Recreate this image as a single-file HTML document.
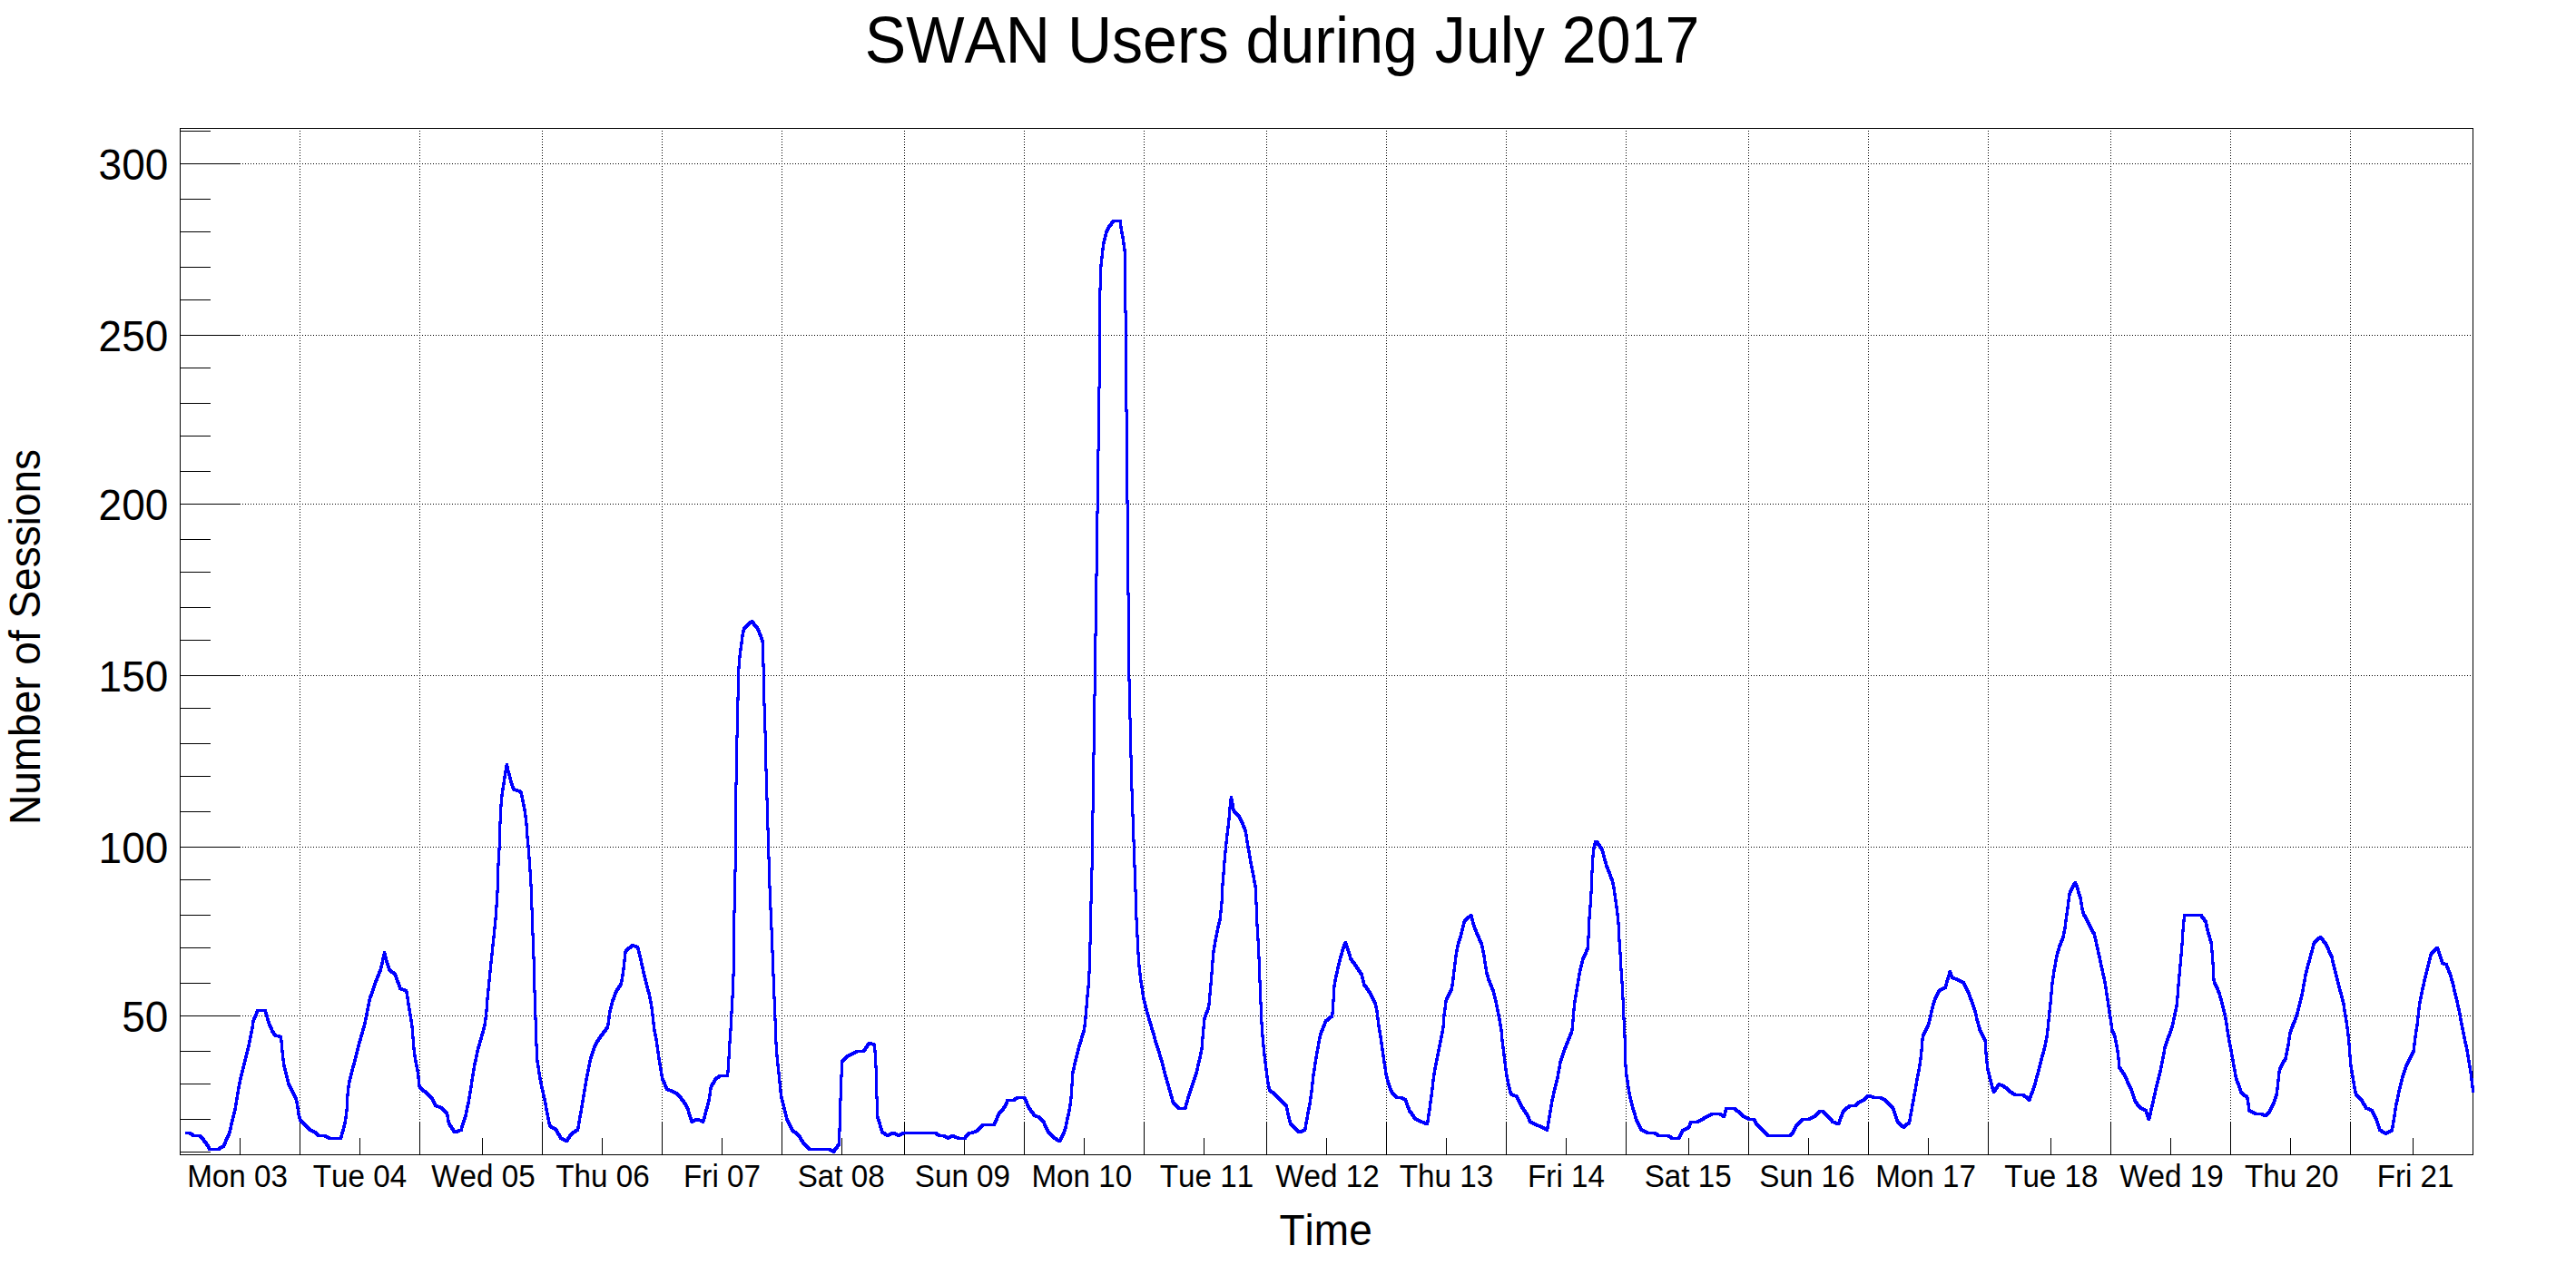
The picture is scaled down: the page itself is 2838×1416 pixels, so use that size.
<!DOCTYPE html>
<html><head><meta charset="utf-8"><title>SWAN Users during July 2017</title>
<style>
html,body{margin:0;padding:0;background:#fff;}
body{width:2838px;height:1416px;overflow:hidden;}
svg{display:block;}
text{font-family:"Liberation Sans",sans-serif;fill:#000;font-kerning:none;}
</style></head><body>
<svg width="2838" height="1416" viewBox="0 0 2838 1416">
<rect width="2838" height="1416" fill="#fff"/>
<g stroke="#000" stroke-width="1" stroke-dasharray="1 2" shape-rendering="crispEdges" fill="none">
<line x1="330.5" y1="144.0" x2="330.5" y2="1234.0"/>
<line x1="462.5" y1="144.0" x2="462.5" y2="1234.0"/>
<line x1="597.5" y1="144.0" x2="597.5" y2="1234.0"/>
<line x1="729.5" y1="144.0" x2="729.5" y2="1234.0"/>
<line x1="861.5" y1="144.0" x2="861.5" y2="1234.0"/>
<line x1="996.5" y1="144.0" x2="996.5" y2="1234.0"/>
<line x1="1128.5" y1="144.0" x2="1128.5" y2="1234.0"/>
<line x1="1260.5" y1="144.0" x2="1260.5" y2="1234.0"/>
<line x1="1395.5" y1="144.0" x2="1395.5" y2="1234.0"/>
<line x1="1527.5" y1="144.0" x2="1527.5" y2="1234.0"/>
<line x1="1659.5" y1="144.0" x2="1659.5" y2="1234.0"/>
<line x1="1791.5" y1="144.0" x2="1791.5" y2="1234.0"/>
<line x1="1926.5" y1="144.0" x2="1926.5" y2="1234.0"/>
<line x1="2058.5" y1="144.0" x2="2058.5" y2="1234.0"/>
<line x1="2190.5" y1="144.0" x2="2190.5" y2="1234.0"/>
<line x1="2325.5" y1="144.0" x2="2325.5" y2="1234.0"/>
<line x1="2457.5" y1="144.0" x2="2457.5" y2="1234.0"/>
<line x1="2589.5" y1="144.0" x2="2589.5" y2="1234.0"/>
<line x1="267.0" y1="1119.5" x2="2722.0" y2="1119.5"/>
<line x1="267.0" y1="933.5" x2="2722.0" y2="933.5"/>
<line x1="267.0" y1="744.5" x2="2722.0" y2="744.5"/>
<line x1="267.0" y1="555.5" x2="2722.0" y2="555.5"/>
<line x1="267.0" y1="369.5" x2="2722.0" y2="369.5"/>
<line x1="267.0" y1="180.5" x2="2722.0" y2="180.5"/>
</g>
<g stroke="#000" stroke-width="1" shape-rendering="crispEdges" fill="none">
<rect x="198.5" y="141.5" width="2526.0" height="1131.0"/>
<line x1="264.5" y1="1272.5" x2="264.5" y2="1254.0"/>
<line x1="330.5" y1="1272.5" x2="330.5" y2="1236.0"/>
<line x1="396.5" y1="1272.5" x2="396.5" y2="1254.0"/>
<line x1="462.5" y1="1272.5" x2="462.5" y2="1236.0"/>
<line x1="531.5" y1="1272.5" x2="531.5" y2="1254.0"/>
<line x1="597.5" y1="1272.5" x2="597.5" y2="1236.0"/>
<line x1="663.5" y1="1272.5" x2="663.5" y2="1254.0"/>
<line x1="729.5" y1="1272.5" x2="729.5" y2="1236.0"/>
<line x1="795.5" y1="1272.5" x2="795.5" y2="1254.0"/>
<line x1="861.5" y1="1272.5" x2="861.5" y2="1236.0"/>
<line x1="927.5" y1="1272.5" x2="927.5" y2="1254.0"/>
<line x1="996.5" y1="1272.5" x2="996.5" y2="1236.0"/>
<line x1="1062.5" y1="1272.5" x2="1062.5" y2="1254.0"/>
<line x1="1128.5" y1="1272.5" x2="1128.5" y2="1236.0"/>
<line x1="1194.5" y1="1272.5" x2="1194.5" y2="1254.0"/>
<line x1="1260.5" y1="1272.5" x2="1260.5" y2="1236.0"/>
<line x1="1326.5" y1="1272.5" x2="1326.5" y2="1254.0"/>
<line x1="1395.5" y1="1272.5" x2="1395.5" y2="1236.0"/>
<line x1="1461.5" y1="1272.5" x2="1461.5" y2="1254.0"/>
<line x1="1527.5" y1="1272.5" x2="1527.5" y2="1236.0"/>
<line x1="1593.5" y1="1272.5" x2="1593.5" y2="1254.0"/>
<line x1="1659.5" y1="1272.5" x2="1659.5" y2="1236.0"/>
<line x1="1725.5" y1="1272.5" x2="1725.5" y2="1254.0"/>
<line x1="1791.5" y1="1272.5" x2="1791.5" y2="1236.0"/>
<line x1="1860.5" y1="1272.5" x2="1860.5" y2="1254.0"/>
<line x1="1926.5" y1="1272.5" x2="1926.5" y2="1236.0"/>
<line x1="1992.5" y1="1272.5" x2="1992.5" y2="1254.0"/>
<line x1="2058.5" y1="1272.5" x2="2058.5" y2="1236.0"/>
<line x1="2124.5" y1="1272.5" x2="2124.5" y2="1254.0"/>
<line x1="2190.5" y1="1272.5" x2="2190.5" y2="1236.0"/>
<line x1="2259.5" y1="1272.5" x2="2259.5" y2="1254.0"/>
<line x1="2325.5" y1="1272.5" x2="2325.5" y2="1236.0"/>
<line x1="2391.5" y1="1272.5" x2="2391.5" y2="1254.0"/>
<line x1="2457.5" y1="1272.5" x2="2457.5" y2="1236.0"/>
<line x1="2523.5" y1="1272.5" x2="2523.5" y2="1254.0"/>
<line x1="2589.5" y1="1272.5" x2="2589.5" y2="1236.0"/>
<line x1="2658.5" y1="1272.5" x2="2658.5" y2="1254.0"/>
<line x1="198.5" y1="1269.5" x2="232.0" y2="1269.5"/>
<line x1="198.5" y1="1233.5" x2="232.0" y2="1233.5"/>
<line x1="198.5" y1="1194.5" x2="232.0" y2="1194.5"/>
<line x1="198.5" y1="1158.5" x2="232.0" y2="1158.5"/>
<line x1="198.5" y1="1119.5" x2="265.0" y2="1119.5"/>
<line x1="198.5" y1="1083.5" x2="232.0" y2="1083.5"/>
<line x1="198.5" y1="1044.5" x2="232.0" y2="1044.5"/>
<line x1="198.5" y1="1008.5" x2="232.0" y2="1008.5"/>
<line x1="198.5" y1="969.5" x2="232.0" y2="969.5"/>
<line x1="198.5" y1="933.5" x2="265.0" y2="933.5"/>
<line x1="198.5" y1="894.5" x2="232.0" y2="894.5"/>
<line x1="198.5" y1="855.5" x2="232.0" y2="855.5"/>
<line x1="198.5" y1="819.5" x2="232.0" y2="819.5"/>
<line x1="198.5" y1="780.5" x2="232.0" y2="780.5"/>
<line x1="198.5" y1="744.5" x2="265.0" y2="744.5"/>
<line x1="198.5" y1="705.5" x2="232.0" y2="705.5"/>
<line x1="198.5" y1="669.5" x2="232.0" y2="669.5"/>
<line x1="198.5" y1="630.5" x2="232.0" y2="630.5"/>
<line x1="198.5" y1="594.5" x2="232.0" y2="594.5"/>
<line x1="198.5" y1="555.5" x2="265.0" y2="555.5"/>
<line x1="198.5" y1="519.5" x2="232.0" y2="519.5"/>
<line x1="198.5" y1="480.5" x2="232.0" y2="480.5"/>
<line x1="198.5" y1="444.5" x2="232.0" y2="444.5"/>
<line x1="198.5" y1="405.5" x2="232.0" y2="405.5"/>
<line x1="198.5" y1="369.5" x2="265.0" y2="369.5"/>
<line x1="198.5" y1="330.5" x2="232.0" y2="330.5"/>
<line x1="198.5" y1="294.5" x2="232.0" y2="294.5"/>
<line x1="198.5" y1="255.5" x2="232.0" y2="255.5"/>
<line x1="198.5" y1="219.5" x2="232.0" y2="219.5"/>
<line x1="198.5" y1="180.5" x2="265.0" y2="180.5"/>
<line x1="198.5" y1="144.5" x2="232.0" y2="144.5"/>
</g>
<text transform="translate(185.3,1137.1) scale(1,1.050)" font-size="46" text-anchor="end">50</text>
<text transform="translate(185.3,951.1) scale(1,1.050)" font-size="46" text-anchor="end">100</text>
<text transform="translate(185.3,762.1) scale(1,1.050)" font-size="46" text-anchor="end">150</text>
<text transform="translate(185.3,573.1) scale(1,1.050)" font-size="46" text-anchor="end">200</text>
<text transform="translate(185.3,387.1) scale(1,1.050)" font-size="46" text-anchor="end">250</text>
<text transform="translate(185.3,198.1) scale(1,1.050)" font-size="46" text-anchor="end">300</text>
<text transform="translate(261.5,1308.4) scale(1,1.050)" font-size="33.2" text-anchor="middle">Mon 03</text>
<text transform="translate(396.5,1308.4) scale(1,1.050)" font-size="33.2" text-anchor="middle">Tue 04</text>
<text transform="translate(532.4,1308.4) scale(1,1.050)" font-size="33.2" text-anchor="middle">Wed 05</text>
<text transform="translate(664.0,1308.4) scale(1,1.050)" font-size="33.2" text-anchor="middle">Thu 06</text>
<text transform="translate(795.5,1308.4) scale(1,1.050)" font-size="33.2" text-anchor="middle">Fri 07</text>
<text transform="translate(926.7,1308.4) scale(1,1.050)" font-size="33.2" text-anchor="middle">Sat 08</text>
<text transform="translate(1060.4,1308.4) scale(1,1.050)" font-size="33.2" text-anchor="middle">Sun 09</text>
<text transform="translate(1191.8,1308.4) scale(1,1.050)" font-size="33.2" text-anchor="middle">Mon 10</text>
<text transform="translate(1329.5,1308.4) scale(1,1.050)" font-size="33.2" text-anchor="middle">Tue 11</text>
<text transform="translate(1462.4,1308.4) scale(1,1.050)" font-size="33.2" text-anchor="middle">Wed 12</text>
<text transform="translate(1593.5,1308.4) scale(1,1.050)" font-size="33.2" text-anchor="middle">Thu 13</text>
<text transform="translate(1725.5,1308.4) scale(1,1.050)" font-size="33.2" text-anchor="middle">Fri 14</text>
<text transform="translate(1859.7,1308.4) scale(1,1.050)" font-size="33.2" text-anchor="middle">Sat 15</text>
<text transform="translate(1990.9,1308.4) scale(1,1.050)" font-size="33.2" text-anchor="middle">Sun 16</text>
<text transform="translate(2121.5,1308.4) scale(1,1.050)" font-size="33.2" text-anchor="middle">Mon 17</text>
<text transform="translate(2259.8,1308.4) scale(1,1.050)" font-size="33.2" text-anchor="middle">Tue 18</text>
<text transform="translate(2392.4,1308.4) scale(1,1.050)" font-size="33.2" text-anchor="middle">Wed 19</text>
<text transform="translate(2524.7,1308.4) scale(1,1.050)" font-size="33.2" text-anchor="middle">Thu 20</text>
<text transform="translate(2661.1,1308.4) scale(1,1.050)" font-size="33.2" text-anchor="middle">Fri 21</text>
<text transform="translate(1460.6,1372.0) scale(1,1.050)" font-size="46" text-anchor="middle">Time</text>
<text transform="translate(43.6,702.0) rotate(-90) scale(1,1.050)" font-size="46" text-anchor="middle">Number of Sessions</text>
<text transform="translate(1412.5,69.3) scale(1,1.050)" font-size="68.1" text-anchor="middle">SWAN Users during July 2017</text>
<path fill="#0000ff" fill-rule="nonzero" stroke="none" shape-rendering="crispEdges" d="M204.0,1247.0 210.6,1247.0 210.6,1250.0 204.0,1250.0ZM207.6,1247.0 210.6,1247.0 214.6,1250.1 214.6,1253.1 211.6,1253.1 207.6,1250.0ZM211.6,1250.1 221.6,1250.1 221.6,1253.1 211.6,1253.1ZM218.6,1250.1 221.6,1250.1 227.5,1256.6 227.5,1259.6 224.5,1259.6 218.6,1253.1ZM224.5,1256.6 227.5,1256.6 232.8,1265.0 232.8,1268.0 229.8,1268.0 224.5,1259.6ZM229.8,1265.0 241.6,1265.0 241.6,1268.0 229.8,1268.0ZM238.6,1265.0 244.8,1261.7 247.8,1261.7 247.8,1264.7 241.6,1268.0 238.6,1268.0ZM244.8,1261.7 247.7,1254.9 250.7,1254.9 250.7,1257.9 247.8,1264.7 244.8,1264.7ZM247.7,1254.9 251.0,1248.1 254.0,1248.1 254.0,1251.1 250.7,1257.9 247.7,1257.9ZM251.0,1248.1 254.4,1233.4 257.4,1233.4 257.4,1236.4 254.0,1251.1 251.0,1251.1ZM254.4,1233.4 257.6,1221.0 260.6,1221.0 260.6,1224.0 257.4,1236.4 254.4,1236.4ZM257.6,1221.0 261.2,1198.5 264.2,1198.5 264.2,1201.5 260.6,1224.0 257.6,1224.0ZM261.2,1198.5 263.1,1188.9 266.1,1188.9 266.1,1191.9 264.2,1201.5 261.2,1201.5ZM263.1,1188.9 266.8,1173.6 269.8,1173.6 269.8,1176.6 266.1,1191.9 263.1,1191.9ZM266.8,1173.6 271.4,1155.6 274.4,1155.6 274.4,1158.6 269.8,1176.6 266.8,1176.6ZM271.4,1155.6 274.2,1143.2 277.2,1143.2 277.2,1146.2 274.4,1158.6 271.4,1158.6ZM274.2,1143.2 277.0,1128.5 280.0,1128.5 280.0,1131.5 277.2,1146.2 274.2,1146.2ZM277.0,1128.5 277.6,1122.8 280.6,1122.8 280.6,1125.8 280.0,1131.5 277.0,1131.5ZM277.6,1122.8 282.6,1112.1 285.6,1112.1 285.6,1115.1 280.6,1125.8 277.6,1125.8ZM282.6,1112.1 293.8,1112.1 293.8,1115.1 282.6,1115.1ZM290.8,1112.1 293.8,1112.1 298.1,1127.3 298.1,1130.3 295.1,1130.3 290.8,1115.1ZM295.1,1127.3 298.1,1127.3 301.4,1133.5 301.4,1136.5 298.4,1136.5 295.1,1130.3ZM297.9,1133.6 298.4,1133.5 301.4,1133.5 301.4,1136.5 300.9,1136.6 297.9,1136.6ZM297.9,1133.6 300.9,1133.6 304.3,1139.2 304.3,1142.2 301.3,1142.2 297.9,1136.6ZM301.3,1139.2 304.3,1139.2 311.0,1141.1 311.0,1144.1 308.0,1144.1 301.3,1142.2ZM308.0,1141.1 311.0,1141.1 312.5,1156.7 312.5,1159.7 309.5,1159.7 308.0,1144.1ZM309.5,1156.7 312.5,1156.7 314.1,1171.4 314.1,1174.4 311.1,1174.4 309.5,1159.7ZM311.1,1171.4 314.1,1171.4 319.5,1192.8 319.5,1195.8 316.5,1195.8 311.1,1174.4ZM316.5,1192.8 319.5,1192.8 325.7,1205.2 325.7,1208.2 322.7,1208.2 316.5,1195.8ZM322.7,1205.2 325.7,1205.2 328.0,1209.7 328.0,1212.7 325.0,1212.7 322.7,1208.2ZM325.0,1209.7 328.0,1209.7 330.8,1227.8 330.8,1230.8 327.8,1230.8 325.0,1212.7ZM327.8,1227.8 330.8,1227.8 332.2,1232.3 332.2,1235.3 329.2,1235.3 327.8,1230.8ZM329.2,1232.3 332.2,1232.3 343.2,1243.6 343.2,1246.6 340.2,1246.6 329.2,1235.3ZM340.2,1243.6 343.2,1243.6 348.3,1245.9 348.3,1248.9 345.3,1248.9 340.2,1246.6ZM345.3,1245.9 348.3,1245.9 352.8,1250.1 352.8,1253.1 349.8,1253.1 345.3,1248.9ZM349.8,1250.1 359.6,1250.1 359.6,1253.1 349.8,1253.1ZM356.6,1250.1 359.6,1250.1 364.6,1252.9 364.6,1255.9 361.6,1255.9 356.6,1253.1ZM361.6,1252.9 377.0,1252.9 377.0,1255.9 361.6,1255.9ZM374.0,1252.9 378.6,1235.7 381.6,1235.7 381.6,1238.7 377.0,1255.9 374.0,1255.9ZM378.6,1235.7 380.3,1225.5 383.3,1225.5 383.3,1228.5 381.6,1238.7 378.6,1238.7ZM380.3,1225.5 381.7,1201.8 384.7,1201.8 384.7,1204.8 383.3,1228.5 380.3,1228.5ZM381.7,1201.8 383.1,1191.7 386.1,1191.7 386.1,1194.7 384.7,1204.8 381.7,1204.8ZM383.1,1191.7 385.3,1182.7 388.3,1182.7 388.3,1185.7 386.1,1194.7 383.1,1194.7ZM385.3,1182.7 389.8,1165.7 392.8,1165.7 392.8,1168.7 388.3,1185.7 385.3,1185.7ZM389.8,1165.7 393.8,1149.9 396.8,1149.9 396.8,1152.9 392.8,1168.7 389.8,1168.7ZM393.8,1149.9 396.6,1139.8 399.6,1139.8 399.6,1142.8 396.8,1152.9 393.8,1152.9ZM396.6,1139.8 400.0,1128.5 403.0,1128.5 403.0,1131.5 399.6,1142.8 396.6,1142.8ZM400.0,1128.5 402.3,1117.1 405.3,1117.1 405.3,1120.1 403.0,1131.5 400.0,1131.5ZM402.3,1117.1 405.6,1100.2 408.6,1100.2 408.6,1103.2 405.3,1120.1 402.3,1120.1ZM405.6,1100.2 409.0,1090.1 412.0,1090.1 412.0,1093.1 408.6,1103.2 405.6,1103.2ZM409.0,1090.1 413.0,1078.8 416.0,1078.8 416.0,1081.8 412.0,1093.1 409.0,1093.1ZM413.0,1078.8 418.1,1066.4 421.1,1066.4 421.1,1069.4 416.0,1081.8 413.0,1081.8ZM418.1,1066.4 420.3,1056.2 423.3,1056.2 423.3,1059.2 421.1,1069.4 418.1,1069.4ZM420.3,1056.2 422.0,1048.3 425.0,1048.3 425.0,1051.3 423.3,1059.2 420.3,1059.2ZM422.0,1048.3 425.0,1048.3 426.7,1055.1 426.7,1058.1 423.7,1058.1 422.0,1051.3ZM423.7,1055.1 426.7,1055.1 430.1,1066.4 430.1,1069.4 427.1,1069.4 423.7,1058.1ZM427.1,1066.4 430.1,1066.4 436.9,1072.6 436.9,1075.6 433.9,1075.6 427.1,1069.4ZM433.9,1072.6 436.9,1072.6 442.5,1087.8 442.5,1090.8 439.5,1090.8 433.9,1075.6ZM439.5,1087.8 442.5,1087.8 449.3,1090.6 449.3,1093.6 446.3,1093.6 439.5,1090.8ZM446.3,1090.6 449.3,1090.6 451.5,1104.7 451.5,1107.7 448.5,1107.7 446.3,1093.6ZM448.5,1104.7 451.5,1104.7 454.3,1121.7 454.3,1124.7 451.3,1124.7 448.5,1107.7ZM451.3,1121.7 454.3,1121.7 456.0,1133.5 456.0,1136.5 453.0,1136.5 451.3,1124.7ZM453.0,1133.5 456.0,1133.5 456.6,1143.2 456.6,1146.2 453.6,1146.2 453.0,1136.5ZM453.6,1143.2 456.6,1143.2 457.7,1155.6 457.7,1158.6 454.7,1158.6 453.6,1146.2ZM454.7,1155.6 457.7,1155.6 458.9,1164.6 458.9,1167.6 455.9,1167.6 454.7,1158.6ZM455.9,1164.6 458.9,1164.6 461.7,1179.3 461.7,1182.3 458.7,1182.3 455.9,1167.6ZM458.7,1179.3 461.7,1179.3 463.7,1196.2 463.7,1199.2 460.7,1199.2 458.7,1182.3ZM460.7,1196.2 463.7,1196.2 477.3,1208.6 477.3,1211.6 474.3,1211.6 460.7,1199.2ZM474.3,1208.6 477.3,1208.6 481.2,1216.5 481.2,1219.5 478.2,1219.5 474.3,1211.6ZM478.2,1216.5 481.2,1216.5 487.5,1219.3 487.5,1222.3 484.5,1222.3 478.2,1219.5ZM484.5,1219.3 487.5,1219.3 494.2,1226.1 494.2,1229.1 491.2,1229.1 484.5,1222.3ZM491.2,1226.1 494.2,1226.1 495.9,1236.3 495.9,1239.3 492.9,1239.3 491.2,1229.1ZM492.9,1236.3 495.9,1236.3 502.7,1246.4 502.7,1249.4 499.7,1249.4 492.9,1239.3ZM499.7,1246.4 506.5,1243.6 509.5,1243.6 509.5,1246.6 502.7,1249.4 499.7,1249.4ZM506.5,1243.6 511.5,1227.8 514.5,1227.8 514.5,1230.8 509.5,1246.6 506.5,1246.6ZM511.5,1227.8 514.9,1212.0 517.9,1212.0 517.9,1215.0 514.5,1230.8 511.5,1230.8ZM514.9,1212.0 518.3,1190.6 521.3,1190.6 521.3,1193.6 517.9,1215.0 514.9,1215.0ZM518.3,1190.6 521.7,1170.3 524.7,1170.3 524.7,1173.3 521.3,1193.6 518.3,1193.6ZM521.7,1170.3 525.1,1154.5 528.1,1154.5 528.1,1157.5 524.7,1173.3 521.7,1173.3ZM525.1,1154.5 530.7,1135.3 533.7,1135.3 533.7,1138.3 528.1,1157.5 525.1,1157.5ZM530.7,1135.3 532.4,1128.5 535.4,1128.5 535.4,1131.5 533.7,1138.3 530.7,1138.3ZM532.4,1128.5 534.1,1117.1 537.1,1117.1 537.1,1120.1 535.4,1131.5 532.4,1131.5ZM534.1,1117.1 535.8,1095.7 538.8,1095.7 538.8,1098.7 537.1,1120.1 534.1,1120.1ZM535.8,1095.7 538.1,1073.1 541.1,1073.1 541.1,1076.1 538.8,1098.7 535.8,1098.7ZM538.1,1073.1 540.3,1051.7 543.3,1051.7 543.3,1054.7 541.1,1076.1 538.1,1076.1ZM540.3,1051.7 542.6,1030.3 545.6,1030.3 545.6,1033.3 543.3,1054.7 540.3,1054.7ZM542.6,1030.3 544.5,1011.1 547.5,1011.1 547.5,1014.1 545.6,1033.3 542.6,1033.3ZM544.5,1011.1 545.6,995.3 548.6,995.3 548.6,998.3 547.5,1014.1 544.5,1014.1ZM545.6,995.3 546.3,988.5 549.3,988.5 549.3,991.5 548.6,998.3 545.6,998.3ZM546.3,988.5 546.7,974.9 549.7,974.9 549.7,977.9 549.3,991.5 546.3,991.5ZM546.7,974.9 547.3,954.3 550.3,954.3 550.3,957.3 549.7,977.9 546.7,977.9ZM547.3,954.3 548.6,932.5 551.6,932.5 551.6,935.5 550.3,957.3 547.3,957.3ZM548.6,932.5 549.2,912.0 552.2,912.0 552.2,915.0 551.6,935.5 548.6,935.5ZM549.2,912.0 550.2,891.4 553.2,891.4 553.2,894.4 552.2,915.0 549.2,915.0ZM550.2,891.4 551.1,877.3 554.1,877.3 554.1,880.3 553.2,894.4 550.2,894.4ZM551.1,877.3 553.1,864.5 556.1,864.5 556.1,867.5 554.1,880.3 551.1,880.3ZM553.1,864.5 555.0,851.6 558.0,851.6 558.0,854.6 556.1,867.5 553.1,867.5ZM555.0,851.6 556.9,841.3 559.9,841.3 559.9,844.3 558.0,854.6 555.0,854.6ZM556.9,841.3 559.9,841.3 561.2,847.8 561.2,850.8 558.2,850.8 556.9,844.3ZM558.2,847.8 561.2,847.8 563.1,854.2 563.1,857.2 560.1,857.2 558.2,850.8ZM560.1,854.2 563.1,854.2 565.1,861.9 565.1,864.9 562.1,864.9 560.1,857.2ZM562.1,861.9 565.1,861.9 567.6,868.3 567.6,871.3 564.6,871.3 562.1,864.9ZM564.6,868.3 567.6,868.3 571.5,869.8 571.5,872.8 568.5,872.8 564.6,871.3ZM568.5,869.8 571.5,869.8 575.3,871.1 575.3,874.1 572.3,874.1 568.5,872.8ZM572.3,871.1 575.3,871.1 577.3,879.9 577.3,882.9 574.3,882.9 572.3,874.1ZM574.3,879.9 577.3,879.9 579.8,892.7 579.8,895.7 576.8,895.7 574.3,882.9ZM576.8,892.7 579.8,892.7 581.4,905.5 581.4,908.5 578.4,908.5 576.8,895.7ZM578.4,905.5 581.4,905.5 582.4,919.7 582.4,922.7 579.4,922.7 578.4,908.5ZM579.4,919.7 582.4,919.7 583.7,932.5 583.7,935.5 580.7,935.5 579.4,922.7ZM580.7,932.5 583.7,932.5 584.7,946.6 584.7,949.6 581.7,949.6 580.7,935.5ZM581.7,946.6 584.7,946.6 585.6,959.5 585.6,962.5 582.6,962.5 581.7,949.6ZM582.6,959.5 585.6,959.5 586.5,973.6 586.5,976.6 583.5,976.6 582.6,962.5ZM583.5,973.6 586.5,973.6 587.3,993.5 587.3,996.5 584.3,996.5 583.5,976.6ZM584.3,993.5 587.3,993.5 587.7,1005.4 587.7,1008.4 584.7,1008.4 584.3,996.5ZM584.7,1005.4 587.7,1005.4 588.4,1025.7 588.4,1028.7 585.4,1028.7 584.7,1008.4ZM585.4,1025.7 588.4,1025.7 589.6,1056.2 589.6,1059.2 586.6,1059.2 585.4,1028.7ZM586.6,1056.2 589.6,1056.2 590.4,1086.7 590.4,1089.7 587.4,1089.7 586.6,1059.2ZM587.4,1086.7 590.4,1086.7 591.3,1117.1 591.3,1120.1 588.3,1120.1 587.4,1089.7ZM588.3,1117.1 591.3,1117.1 592.2,1133.5 592.2,1136.5 589.2,1136.5 588.3,1120.1ZM589.2,1133.5 592.2,1133.5 592.4,1146.6 592.4,1149.6 589.4,1149.6 589.2,1136.5ZM589.4,1146.6 592.4,1146.6 593.0,1164.6 593.0,1167.6 590.0,1167.6 589.4,1149.6ZM590.0,1164.6 593.0,1164.6 596.9,1189.4 596.9,1192.4 593.9,1192.4 590.0,1167.6ZM593.9,1189.4 596.9,1189.4 601.4,1209.7 601.4,1212.7 598.4,1212.7 593.9,1192.4ZM598.4,1209.7 601.4,1209.7 607.1,1239.1 607.1,1242.1 604.1,1242.1 598.4,1212.7ZM604.1,1239.1 607.1,1239.1 613.8,1243.0 613.8,1246.0 610.8,1246.0 604.1,1242.1ZM610.8,1243.0 613.8,1243.0 619.5,1252.6 619.5,1255.6 616.5,1255.6 610.8,1246.0ZM616.5,1252.6 619.5,1252.6 625.7,1255.8 625.7,1258.8 622.7,1258.8 616.5,1255.6ZM622.7,1255.8 628.9,1247.0 631.9,1247.0 631.9,1250.0 625.7,1258.8 622.7,1258.8ZM628.9,1247.0 635.1,1243.6 638.1,1243.6 638.1,1246.6 631.9,1250.0 628.9,1250.0ZM635.1,1243.6 637.4,1230.1 640.4,1230.1 640.4,1233.1 638.1,1246.6 635.1,1246.6ZM637.4,1230.1 641.3,1207.5 644.3,1207.5 644.3,1210.5 640.4,1233.1 637.4,1233.1ZM641.3,1207.5 644.7,1187.2 647.7,1187.2 647.7,1190.2 644.3,1210.5 641.3,1210.5ZM644.7,1187.2 649.2,1164.6 652.2,1164.6 652.2,1167.6 647.7,1190.2 644.7,1190.2ZM649.2,1164.6 654.8,1148.8 657.8,1148.8 657.8,1151.8 652.2,1167.6 649.2,1167.6ZM654.8,1148.8 661.6,1138.7 664.6,1138.7 664.6,1141.7 657.8,1151.8 654.8,1151.8ZM661.6,1138.7 667.8,1130.8 670.8,1130.8 670.8,1133.8 664.6,1141.7 661.6,1141.7ZM667.8,1130.8 668.4,1127.3 671.4,1127.3 671.4,1130.3 670.8,1133.8 667.8,1133.8ZM668.4,1127.3 670.6,1112.6 673.6,1112.6 673.6,1115.6 671.4,1130.3 668.4,1130.3ZM670.6,1112.6 673.5,1101.3 676.5,1101.3 676.5,1104.3 673.6,1115.6 670.6,1115.6ZM673.5,1101.3 677.4,1091.2 680.4,1091.2 680.4,1094.2 676.5,1104.3 673.5,1104.3ZM677.4,1091.2 683.1,1082.2 686.1,1082.2 686.1,1085.2 680.4,1094.2 677.4,1094.2ZM683.1,1082.2 685.3,1067.5 688.3,1067.5 688.3,1070.5 686.1,1085.2 683.1,1085.2ZM685.3,1067.5 687.6,1047.2 690.6,1047.2 690.6,1050.2 688.3,1070.5 685.3,1070.5ZM687.6,1047.2 689.8,1044.9 692.8,1044.9 692.8,1047.9 690.6,1050.2 687.6,1050.2ZM689.8,1044.9 695.5,1040.2 698.5,1040.2 698.5,1043.2 692.8,1047.9 689.8,1047.9ZM695.5,1040.2 698.5,1040.2 704.1,1042.1 704.1,1045.1 701.1,1045.1 695.5,1043.2ZM701.1,1042.1 704.1,1042.1 707.5,1056.2 707.5,1059.2 704.5,1059.2 701.1,1045.1ZM704.5,1056.2 707.5,1056.2 712.0,1076.5 712.0,1079.5 709.0,1079.5 704.5,1059.2ZM709.0,1076.5 712.0,1076.5 716.5,1093.4 716.5,1096.4 713.5,1096.4 709.0,1079.5ZM713.5,1093.4 716.5,1093.4 719.3,1107.0 719.3,1110.0 716.3,1110.0 713.5,1096.4ZM716.3,1107.0 719.3,1107.0 721.0,1121.7 721.0,1124.7 718.0,1124.7 716.3,1110.0ZM718.0,1121.7 721.0,1121.7 722.4,1133.5 722.4,1136.5 719.4,1136.5 718.0,1124.7ZM719.4,1133.5 722.4,1133.5 724.4,1143.2 724.4,1146.2 721.4,1146.2 719.4,1136.5ZM721.4,1143.2 724.4,1143.2 727.8,1166.9 727.8,1169.9 724.8,1169.9 721.4,1146.2ZM724.8,1166.9 727.8,1166.9 731.2,1187.2 731.2,1190.2 728.2,1190.2 724.8,1169.9ZM728.2,1187.2 731.2,1187.2 736.3,1198.5 736.3,1201.5 733.3,1201.5 728.2,1190.2ZM733.3,1198.5 736.3,1198.5 747.0,1203.5 747.0,1206.5 744.0,1206.5 733.3,1201.5ZM744.0,1203.5 747.0,1203.5 749.1,1205.2 749.1,1208.2 746.1,1208.2 744.0,1206.5ZM746.1,1205.2 749.1,1205.2 753.6,1210.9 753.6,1213.9 750.6,1213.9 746.1,1208.2ZM750.6,1210.9 753.6,1210.9 758.7,1218.8 758.7,1221.8 755.7,1221.8 750.6,1213.9ZM755.7,1218.8 758.7,1218.8 763.7,1234.6 763.7,1237.6 760.7,1237.6 755.7,1221.8ZM760.7,1234.6 766.4,1231.7 769.4,1231.7 769.4,1234.7 763.7,1237.6 760.7,1237.6ZM766.4,1231.7 769.4,1231.7 776.2,1234.6 776.2,1237.6 773.2,1237.6 766.4,1234.7ZM773.2,1234.6 776.5,1222.2 779.5,1222.2 779.5,1225.2 776.2,1237.6 773.2,1237.6ZM776.5,1222.2 779.4,1212.0 782.4,1212.0 782.4,1215.0 779.5,1225.2 776.5,1225.2ZM779.4,1212.0 781.6,1197.3 784.6,1197.3 784.6,1200.3 782.4,1215.0 779.4,1215.0ZM781.6,1197.3 786.7,1187.2 789.7,1187.2 789.7,1190.2 784.6,1200.3 781.6,1200.3ZM786.7,1187.2 792.3,1184.0 795.3,1184.0 795.3,1187.0 789.7,1190.2 786.7,1190.2ZM792.3,1184.0 803.2,1184.0 803.2,1187.0 792.3,1187.0ZM800.2,1184.0 800.6,1177.0 803.6,1177.0 803.6,1180.0 803.2,1187.0 800.2,1187.0ZM800.6,1177.0 801.7,1161.2 804.7,1161.2 804.7,1164.2 803.6,1180.0 800.6,1180.0ZM801.7,1161.2 802.5,1146.6 805.5,1146.6 805.5,1149.6 804.7,1164.2 801.7,1164.2ZM802.5,1146.6 803.8,1128.5 806.8,1128.5 806.8,1131.5 805.5,1149.6 802.5,1149.6ZM803.8,1128.5 804.6,1112.6 807.6,1112.6 807.6,1115.6 806.8,1131.5 803.8,1131.5ZM804.6,1112.6 806.3,1083.3 809.3,1083.3 809.3,1086.3 807.6,1115.6 804.6,1115.6ZM806.3,1083.3 807.1,1044.9 810.1,1044.9 810.1,1047.9 809.3,1086.3 806.3,1086.3ZM807.1,1044.9 807.4,1005.4 810.4,1005.4 810.4,1008.4 810.1,1047.9 807.1,1047.9ZM807.4,1005.4 808.2,988.5 811.2,988.5 811.2,991.5 810.4,1008.4 807.4,1008.4ZM808.2,988.5 809.8,833.5 812.8,833.5 812.8,836.5 811.2,991.5 808.2,991.5ZM809.8,833.5 810.9,796.9 813.9,796.9 813.9,799.9 812.8,836.5 809.8,836.5ZM810.9,796.9 811.5,768.7 814.5,768.7 814.5,771.7 813.9,799.9 810.9,799.9ZM811.5,768.7 812.2,737.8 815.2,737.8 815.2,740.8 814.5,771.7 811.5,771.7ZM812.2,737.8 813.4,722.4 816.4,722.4 816.4,725.4 815.2,740.8 812.2,740.8ZM813.4,722.4 815.0,710.9 818.0,710.9 818.0,713.9 816.4,725.4 813.4,725.4ZM815.0,710.9 816.3,700.6 819.3,700.6 819.3,703.6 818.0,713.9 815.0,713.9ZM816.3,700.6 817.9,692.3 820.9,692.3 820.9,695.3 819.3,703.6 816.3,703.6ZM817.9,692.3 819.9,689.0 822.9,689.0 822.9,692.0 820.9,695.3 817.9,695.3ZM819.9,689.0 826.9,683.3 829.9,683.3 829.9,686.3 822.9,692.0 819.9,692.0ZM826.9,683.3 829.9,683.3 835.1,689.7 835.1,692.7 832.1,692.7 826.9,686.3ZM832.1,689.7 835.1,689.7 838.3,696.1 838.3,699.1 835.3,699.1 832.1,692.7ZM835.3,696.1 838.3,696.1 841.9,705.7 841.9,708.7 838.9,708.7 835.3,699.1ZM838.9,705.7 841.9,705.7 842.4,725.0 842.4,728.0 839.4,728.0 838.9,708.7ZM839.4,725.0 842.4,725.0 843.1,763.5 843.1,766.5 840.1,766.5 839.4,728.0ZM840.1,763.5 843.1,763.5 844.4,799.5 844.4,802.5 841.4,802.5 840.1,766.5ZM841.4,799.5 844.4,799.5 845.1,833.5 845.1,836.5 842.1,836.5 841.4,802.5ZM842.1,833.5 845.1,833.5 849.9,988.5 849.9,991.5 846.9,991.5 842.1,836.5ZM846.9,988.5 849.9,988.5 851.1,1011.1 851.1,1014.1 848.1,1014.1 846.9,991.5ZM848.1,1011.1 851.1,1011.1 852.2,1039.3 852.2,1042.3 849.2,1042.3 848.1,1014.1ZM849.2,1039.3 852.2,1039.3 853.3,1067.5 853.3,1070.5 850.3,1070.5 849.2,1042.3ZM850.3,1067.5 853.3,1067.5 854.4,1095.7 854.4,1098.7 851.4,1098.7 850.3,1070.5ZM851.4,1095.7 854.4,1095.7 855.6,1123.9 855.6,1126.9 852.6,1126.9 851.4,1098.7ZM852.6,1123.9 855.6,1123.9 856.0,1128.5 856.0,1131.5 853.0,1131.5 852.6,1126.9ZM853.0,1128.5 856.0,1128.5 856.3,1145.4 856.3,1148.4 853.3,1148.4 853.0,1131.5ZM853.3,1145.4 856.3,1145.4 857.4,1161.2 857.4,1164.2 854.4,1164.2 853.3,1148.4ZM854.4,1161.2 857.4,1161.2 860.2,1187.2 860.2,1190.2 857.2,1190.2 854.4,1164.2ZM857.2,1187.2 860.2,1187.2 861.9,1205.2 861.9,1208.2 858.9,1208.2 857.2,1190.2ZM858.9,1205.2 861.9,1205.2 865.3,1218.8 865.3,1221.8 862.3,1221.8 858.9,1208.2ZM862.3,1218.8 865.3,1218.8 868.7,1232.3 868.7,1235.3 865.7,1235.3 862.3,1221.8ZM865.7,1232.3 868.7,1232.3 873.8,1243.0 873.8,1246.0 870.8,1246.0 865.7,1235.3ZM870.8,1243.0 873.8,1243.0 882.2,1250.9 882.2,1253.9 879.2,1253.9 870.8,1246.0ZM879.2,1250.9 882.2,1250.9 886.7,1258.3 886.7,1261.3 883.7,1261.3 879.2,1253.9ZM883.7,1258.3 886.7,1258.3 892.9,1264.8 892.9,1267.8 889.9,1267.8 883.7,1261.3ZM889.9,1264.8 914.9,1264.8 914.9,1267.8 889.9,1267.8ZM911.9,1264.8 914.9,1264.8 920.0,1267.5 920.0,1270.5 917.0,1270.5 911.9,1267.8ZM917.0,1267.5 923.0,1259.4 926.0,1259.4 926.0,1262.4 920.0,1270.5 917.0,1270.5ZM923.0,1259.4 923.5,1243.6 926.5,1243.6 926.5,1246.6 926.0,1262.4 923.0,1262.4ZM923.5,1243.6 924.4,1213.1 927.4,1213.1 927.4,1216.1 926.5,1246.6 923.5,1246.6ZM924.4,1213.1 925.5,1183.8 928.5,1183.8 928.5,1186.8 927.4,1216.1 924.4,1216.1ZM925.5,1183.8 926.1,1168.6 929.1,1168.6 929.1,1171.6 928.5,1186.8 925.5,1186.8ZM926.1,1168.6 932.3,1162.4 935.3,1162.4 935.3,1165.4 929.1,1171.6 926.1,1171.6ZM932.3,1162.4 942.4,1157.3 945.4,1157.3 945.4,1160.3 935.3,1165.4 932.3,1165.4ZM942.4,1157.3 950.3,1156.7 953.3,1156.7 953.3,1159.7 945.4,1160.3 942.4,1160.3ZM950.3,1156.7 955.4,1148.8 958.4,1148.8 958.4,1151.8 953.3,1159.7 950.3,1159.7ZM955.4,1148.8 957.6,1148.2 960.6,1148.2 960.6,1151.2 958.4,1151.8 955.4,1151.8ZM957.6,1148.2 960.6,1148.2 964.8,1149.9 964.8,1152.9 961.8,1152.9 957.6,1151.2ZM961.8,1149.9 964.8,1149.9 966.3,1164.6 966.3,1167.6 963.3,1167.6 961.8,1152.9ZM963.3,1164.6 966.3,1164.6 966.9,1190.6 966.9,1193.6 963.9,1193.6 963.3,1167.6ZM963.9,1190.6 966.9,1190.6 967.8,1216.5 967.8,1219.5 964.8,1219.5 963.9,1193.6ZM964.8,1216.5 967.8,1216.5 968.5,1230.1 968.5,1233.1 965.5,1233.1 964.8,1219.5ZM965.5,1230.1 968.5,1230.1 973.6,1246.4 973.6,1249.4 970.6,1249.4 965.5,1233.1ZM970.6,1246.4 973.6,1246.4 979.8,1249.8 979.8,1252.8 976.8,1252.8 970.6,1249.4ZM976.8,1249.8 982.5,1247.0 985.5,1247.0 985.5,1250.0 979.8,1252.8 976.8,1252.8ZM982.5,1247.0 985.5,1247.0 991.7,1249.8 991.7,1252.8 988.7,1252.8 982.5,1250.0ZM988.7,1249.8 994.3,1247.0 997.3,1247.0 997.3,1250.0 991.7,1252.8 988.7,1252.8ZM994.3,1247.0 1016.5,1247.0 1016.5,1250.0 994.3,1250.0ZM1013.5,1247.0 1032.1,1247.0 1032.1,1250.0 1013.5,1250.0ZM1029.1,1247.0 1032.1,1247.0 1036.6,1249.8 1036.6,1252.8 1033.6,1252.8 1029.1,1250.0ZM1033.6,1249.8 1036.6,1249.8 1041.2,1250.1 1041.2,1253.1 1038.2,1253.1 1033.6,1252.8ZM1038.2,1250.1 1041.2,1250.1 1045.7,1252.6 1045.7,1255.6 1042.7,1255.6 1038.2,1253.1ZM1042.7,1252.6 1048.3,1250.1 1051.3,1250.1 1051.3,1253.1 1045.7,1255.6 1042.7,1255.6ZM1048.3,1250.1 1051.3,1250.1 1057.5,1252.9 1057.5,1255.9 1054.5,1255.9 1048.3,1253.1ZM1054.5,1252.9 1064.3,1252.9 1064.3,1255.9 1054.5,1255.9ZM1061.3,1252.9 1066.4,1247.0 1069.4,1247.0 1069.4,1250.0 1064.3,1255.9 1061.3,1255.9ZM1066.4,1247.0 1070.9,1246.4 1073.9,1246.4 1073.9,1249.4 1069.4,1250.0 1066.4,1250.0ZM1070.9,1246.4 1076.0,1243.8 1079.0,1243.8 1079.0,1246.8 1073.9,1249.4 1070.9,1249.4ZM1076.0,1243.8 1081.6,1238.0 1084.6,1238.0 1084.6,1241.0 1079.0,1246.8 1076.0,1246.8ZM1081.6,1238.0 1094.0,1237.7 1097.0,1237.7 1097.0,1240.7 1084.6,1241.0 1081.6,1241.0ZM1094.0,1237.7 1098.5,1226.7 1101.5,1226.7 1101.5,1229.7 1097.0,1240.7 1094.0,1240.7ZM1098.5,1226.7 1105.9,1217.6 1108.9,1217.6 1108.9,1220.6 1101.5,1229.7 1098.5,1229.7ZM1105.9,1217.6 1108.7,1210.9 1111.7,1210.9 1111.7,1213.9 1108.9,1220.6 1105.9,1220.6ZM1108.7,1210.9 1118.4,1210.9 1118.4,1213.9 1108.7,1213.9ZM1115.4,1210.9 1119.4,1208.1 1122.4,1208.1 1122.4,1211.1 1118.4,1213.9 1115.4,1213.9ZM1119.4,1208.1 1130.3,1208.1 1130.3,1211.1 1119.4,1211.1ZM1127.3,1208.1 1130.3,1208.1 1134.8,1218.8 1134.8,1221.8 1131.8,1221.8 1127.3,1211.1ZM1131.8,1218.8 1134.8,1218.8 1141.6,1228.4 1141.6,1231.4 1138.6,1231.4 1131.8,1221.8ZM1138.6,1228.4 1141.6,1228.4 1145.5,1228.7 1145.5,1231.7 1142.5,1231.7 1138.6,1231.4ZM1142.5,1228.7 1145.5,1228.7 1151.2,1234.6 1151.2,1237.6 1148.2,1237.6 1142.5,1231.7ZM1148.2,1234.6 1151.2,1234.6 1156.2,1245.9 1156.2,1248.9 1153.2,1248.9 1148.2,1237.6ZM1153.2,1245.9 1156.2,1245.9 1163.0,1252.6 1163.0,1255.6 1160.0,1255.6 1153.2,1248.9ZM1160.0,1252.6 1163.0,1252.6 1169.2,1256.0 1169.2,1259.0 1166.2,1259.0 1160.0,1255.6ZM1166.2,1256.0 1171.9,1243.6 1174.9,1243.6 1174.9,1246.6 1169.2,1259.0 1166.2,1259.0ZM1171.9,1243.6 1175.8,1225.5 1178.8,1225.5 1178.8,1228.5 1174.9,1246.6 1171.9,1246.6ZM1175.8,1225.5 1178.1,1213.1 1181.1,1213.1 1181.1,1216.1 1178.8,1228.5 1175.8,1228.5ZM1178.1,1213.1 1179.2,1198.5 1182.2,1198.5 1182.2,1201.5 1181.1,1216.1 1178.1,1216.1ZM1179.2,1198.5 1180.3,1181.5 1183.3,1181.5 1183.3,1184.5 1182.2,1201.5 1179.2,1201.5ZM1180.3,1181.5 1183.7,1165.7 1186.7,1165.7 1186.7,1168.7 1183.3,1184.5 1180.3,1184.5ZM1183.7,1165.7 1188.2,1148.8 1191.2,1148.8 1191.2,1151.8 1186.7,1168.7 1183.7,1168.7ZM1188.2,1148.8 1192.7,1134.1 1195.7,1134.1 1195.7,1137.1 1191.2,1151.8 1188.2,1151.8ZM1192.7,1134.1 1193.6,1128.5 1196.6,1128.5 1196.6,1131.5 1195.7,1137.1 1192.7,1137.1ZM1193.6,1128.5 1194.8,1117.1 1197.8,1117.1 1197.8,1120.1 1196.6,1131.5 1193.6,1131.5ZM1194.8,1117.1 1196.5,1095.7 1199.5,1095.7 1199.5,1098.7 1197.8,1120.1 1194.8,1120.1ZM1196.5,1095.7 1198.2,1078.8 1201.2,1078.8 1201.2,1081.8 1199.5,1098.7 1196.5,1098.7ZM1198.2,1078.8 1199.3,1049.4 1202.3,1049.4 1202.3,1052.4 1201.2,1081.8 1198.2,1081.8ZM1199.3,1049.4 1199.8,1022.4 1202.8,1022.4 1202.8,1025.4 1202.3,1052.4 1199.3,1052.4ZM1199.8,1022.4 1200.2,995.3 1203.2,995.3 1203.2,998.3 1202.8,1025.4 1199.8,1025.4ZM1200.2,995.3 1201.0,988.5 1204.0,988.5 1204.0,991.5 1203.2,998.3 1200.2,998.3ZM1201.0,988.5 1204.0,798.5 1207.0,798.5 1207.0,801.5 1204.0,991.5 1201.0,991.5ZM1204.0,798.5 1207.0,598.5 1210.0,598.5 1210.0,601.5 1207.0,801.5 1204.0,801.5ZM1207.0,598.5 1209.9,398.5 1212.9,398.5 1212.9,401.5 1210.0,601.5 1207.0,601.5ZM1209.9,398.5 1210.2,339.6 1213.2,339.6 1213.2,342.6 1212.9,401.5 1209.9,401.5ZM1210.2,339.6 1210.8,297.3 1213.8,297.3 1213.8,300.3 1213.2,342.6 1210.2,342.6ZM1210.8,297.3 1212.8,278.8 1215.8,278.8 1215.8,281.8 1213.8,300.3 1210.8,300.3ZM1212.8,278.8 1214.1,268.2 1217.1,268.2 1217.1,271.2 1215.8,281.8 1212.8,281.8ZM1214.1,268.2 1216.8,256.3 1219.8,256.3 1219.8,259.3 1217.1,271.2 1214.1,271.2ZM1216.8,256.3 1219.4,249.7 1222.4,249.7 1222.4,252.7 1219.8,259.3 1216.8,259.3ZM1219.4,249.7 1225.4,241.7 1228.4,241.7 1228.4,244.7 1222.4,252.7 1219.4,252.7ZM1225.4,241.7 1235.4,241.7 1235.4,244.7 1225.4,244.7ZM1232.4,241.7 1235.4,241.7 1237.0,252.3 1237.0,255.3 1234.0,255.3 1232.4,244.7ZM1234.0,252.3 1237.0,252.3 1239.0,262.9 1239.0,265.9 1236.0,265.9 1234.0,255.3ZM1236.0,262.9 1239.0,262.9 1240.6,274.8 1240.6,277.8 1237.6,277.8 1236.0,265.9ZM1237.6,274.8 1240.6,274.8 1241.0,323.8 1241.0,326.8 1238.0,326.8 1237.6,277.8ZM1238.0,323.8 1241.0,323.8 1242.0,360.8 1242.0,363.8 1239.0,363.8 1238.0,326.8ZM1239.0,360.8 1242.0,360.8 1242.0,401.5 1239.0,401.5ZM1239.0,398.5 1242.0,398.5 1245.4,743.5 1245.4,746.5 1242.4,746.5 1239.0,401.5ZM1242.4,743.5 1245.4,743.5 1248.2,860.5 1248.2,863.5 1245.2,863.5 1242.4,746.5ZM1245.2,860.5 1248.2,860.5 1252.8,988.5 1252.8,991.5 1249.8,991.5 1245.2,863.5ZM1249.8,988.5 1252.8,988.5 1253.3,1006.6 1253.3,1009.6 1250.3,1009.6 1249.8,991.5ZM1250.3,1006.6 1253.3,1006.6 1254.4,1028.0 1254.4,1031.0 1251.4,1031.0 1250.3,1009.6ZM1251.4,1028.0 1254.4,1028.0 1255.5,1049.4 1255.5,1052.4 1252.5,1052.4 1251.4,1031.0ZM1252.5,1049.4 1255.5,1049.4 1256.7,1065.2 1256.7,1068.2 1253.7,1068.2 1252.5,1052.4ZM1253.7,1065.2 1256.7,1065.2 1258.7,1081.0 1258.7,1084.0 1255.7,1084.0 1253.7,1068.2ZM1255.7,1081.0 1258.7,1081.0 1261.5,1099.1 1261.5,1102.1 1258.5,1102.1 1255.7,1084.0ZM1258.5,1099.1 1261.5,1099.1 1265.5,1114.9 1265.5,1117.9 1262.5,1117.9 1258.5,1102.1ZM1262.5,1114.9 1265.5,1114.9 1271.1,1133.5 1271.1,1136.5 1268.1,1136.5 1262.5,1117.9ZM1268.1,1133.5 1271.1,1133.5 1275.1,1147.7 1275.1,1150.7 1272.1,1150.7 1268.1,1136.5ZM1272.1,1147.7 1275.1,1147.7 1280.8,1165.7 1280.8,1168.7 1277.8,1168.7 1272.1,1150.7ZM1277.8,1165.7 1280.8,1165.7 1285.8,1184.9 1285.8,1187.9 1282.8,1187.9 1277.8,1168.7ZM1282.8,1184.9 1285.8,1184.9 1290.4,1200.7 1290.4,1203.7 1287.4,1203.7 1282.8,1187.9ZM1287.4,1200.7 1290.4,1200.7 1294.3,1214.3 1294.3,1217.3 1291.3,1217.3 1287.4,1203.7ZM1291.3,1214.3 1294.3,1214.3 1300.5,1219.9 1300.5,1222.9 1297.5,1222.9 1291.3,1217.3ZM1297.5,1219.9 1307.3,1219.9 1307.3,1222.9 1297.5,1222.9ZM1304.3,1219.9 1307.7,1207.5 1310.7,1207.5 1310.7,1210.5 1307.3,1222.9 1304.3,1222.9ZM1307.7,1207.5 1311.0,1197.3 1314.0,1197.3 1314.0,1200.3 1310.7,1210.5 1307.7,1210.5ZM1311.0,1197.3 1316.1,1182.7 1319.1,1182.7 1319.1,1185.7 1314.0,1200.3 1311.0,1200.3ZM1316.1,1182.7 1320.1,1165.7 1323.1,1165.7 1323.1,1168.7 1319.1,1185.7 1316.1,1185.7ZM1320.1,1165.7 1322.6,1153.3 1325.6,1153.3 1325.6,1156.3 1323.1,1168.7 1320.1,1168.7ZM1322.6,1153.3 1323.7,1139.8 1326.7,1139.8 1326.7,1142.8 1325.6,1156.3 1322.6,1156.3ZM1323.7,1139.8 1324.8,1128.5 1327.8,1128.5 1327.8,1131.5 1326.7,1142.8 1323.7,1142.8ZM1324.8,1128.5 1325.1,1121.7 1328.1,1121.7 1328.1,1124.7 1327.8,1131.5 1324.8,1131.5ZM1325.1,1121.7 1330.2,1108.1 1333.2,1108.1 1333.2,1111.1 1328.1,1124.7 1325.1,1124.7ZM1330.2,1108.1 1331.9,1090.1 1334.9,1090.1 1334.9,1093.1 1333.2,1111.1 1330.2,1111.1ZM1331.9,1090.1 1333.6,1069.7 1336.6,1069.7 1336.6,1072.7 1334.9,1093.1 1331.9,1093.1ZM1333.6,1069.7 1335.3,1048.3 1338.3,1048.3 1338.3,1051.3 1336.6,1072.7 1333.6,1072.7ZM1335.3,1048.3 1338.6,1029.1 1341.6,1029.1 1341.6,1032.1 1338.3,1051.3 1335.3,1051.3ZM1338.6,1029.1 1342.6,1011.1 1345.6,1011.1 1345.6,1014.1 1341.6,1032.1 1338.6,1032.1ZM1342.6,1011.1 1344.3,995.3 1347.3,995.3 1347.3,998.3 1345.6,1014.1 1342.6,1014.1ZM1344.3,995.3 1345.1,988.5 1348.1,988.5 1348.1,991.5 1347.3,998.3 1344.3,998.3ZM1345.1,988.5 1345.2,977.2 1348.2,977.2 1348.2,980.2 1348.1,991.5 1345.1,991.5ZM1345.2,977.2 1346.3,963.6 1349.3,963.6 1349.3,966.6 1348.2,980.2 1345.2,980.2ZM1346.3,963.6 1347.3,950.9 1350.3,950.9 1350.3,953.9 1349.3,966.6 1346.3,966.6ZM1347.3,950.9 1348.4,938.3 1351.4,938.3 1351.4,941.3 1350.3,953.9 1347.3,953.9ZM1348.4,938.3 1349.5,926.8 1352.5,926.8 1352.5,929.8 1351.4,941.3 1348.4,941.3ZM1349.5,926.8 1350.5,918.4 1353.5,918.4 1353.5,921.4 1352.5,929.8 1349.5,929.8ZM1350.5,918.4 1351.6,908.9 1354.6,908.9 1354.6,911.9 1353.5,921.4 1350.5,921.4ZM1351.6,908.9 1352.6,900.0 1355.6,900.0 1355.6,903.0 1354.6,911.9 1351.6,911.9ZM1352.6,900.0 1353.3,891.1 1356.3,891.1 1356.3,894.1 1355.6,903.0 1352.6,903.0ZM1353.3,891.1 1354.2,882.7 1357.2,882.7 1357.2,885.7 1356.3,894.1 1353.3,894.1ZM1354.2,882.7 1354.9,877.4 1357.9,877.4 1357.9,880.4 1357.2,885.7 1354.2,885.7ZM1354.9,877.4 1357.9,877.4 1359.1,882.7 1359.1,885.7 1356.1,885.7 1354.9,880.4ZM1356.1,882.7 1359.1,882.7 1360.3,890.0 1360.3,893.0 1357.3,893.0 1356.1,885.7ZM1357.3,890.0 1360.3,890.0 1361.2,893.2 1361.2,896.2 1358.2,896.2 1357.3,893.0ZM1358.2,893.2 1361.2,893.2 1367.2,898.9 1367.2,901.9 1364.2,901.9 1358.2,896.2ZM1364.2,898.9 1367.2,898.9 1370.8,906.8 1370.8,909.8 1367.8,909.8 1364.2,901.9ZM1367.8,906.8 1370.8,906.8 1374.0,915.2 1374.0,918.2 1371.0,918.2 1367.8,909.8ZM1371.0,915.2 1374.0,915.2 1375.6,926.8 1375.6,929.8 1372.6,929.8 1371.0,918.2ZM1372.6,926.8 1375.6,926.8 1377.7,938.3 1377.7,941.3 1374.7,941.3 1372.6,929.8ZM1374.7,938.3 1377.7,938.3 1379.8,950.9 1379.8,953.9 1376.8,953.9 1374.7,941.3ZM1376.8,950.9 1379.8,950.9 1382.4,963.6 1382.4,966.6 1379.4,966.6 1376.8,953.9ZM1379.4,963.6 1382.4,963.6 1384.5,975.1 1384.5,978.1 1381.5,978.1 1379.4,966.6ZM1381.5,975.1 1384.5,975.1 1385.5,993.5 1385.5,996.5 1382.5,996.5 1381.5,978.1ZM1382.5,993.5 1385.5,993.5 1386.4,1015.6 1386.4,1018.6 1383.4,1018.6 1382.5,996.5ZM1383.4,1015.6 1386.4,1015.6 1387.9,1040.4 1387.9,1043.4 1384.9,1043.4 1383.4,1018.6ZM1384.9,1040.4 1387.9,1040.4 1389.0,1065.2 1389.0,1068.2 1386.0,1068.2 1384.9,1043.4ZM1386.0,1065.2 1389.0,1065.2 1389.8,1087.8 1389.8,1090.8 1386.8,1090.8 1386.0,1068.2ZM1386.8,1087.8 1389.8,1087.8 1390.9,1112.6 1390.9,1115.6 1387.9,1115.6 1386.8,1090.8ZM1387.9,1112.6 1390.9,1112.6 1391.9,1133.5 1391.9,1136.5 1388.9,1136.5 1387.9,1115.6ZM1388.9,1133.5 1391.9,1133.5 1393.0,1145.4 1393.0,1148.4 1390.0,1148.4 1388.9,1136.5ZM1390.0,1145.4 1393.0,1145.4 1394.7,1162.4 1394.7,1165.4 1391.7,1165.4 1390.0,1148.4ZM1391.7,1162.4 1394.7,1162.4 1396.4,1175.9 1396.4,1178.9 1393.4,1178.9 1391.7,1165.4ZM1393.4,1175.9 1396.4,1175.9 1398.1,1189.4 1398.1,1192.4 1395.1,1192.4 1393.4,1178.9ZM1395.1,1189.4 1398.1,1189.4 1399.8,1199.0 1399.8,1202.0 1396.8,1202.0 1395.1,1192.4ZM1396.8,1199.0 1399.8,1199.0 1418.4,1216.5 1418.4,1219.5 1415.4,1219.5 1396.8,1202.0ZM1415.4,1216.5 1418.4,1216.5 1420.7,1226.7 1420.7,1229.7 1417.7,1229.7 1415.4,1219.5ZM1417.7,1226.7 1420.7,1226.7 1423.5,1237.4 1423.5,1240.4 1420.5,1240.4 1417.7,1229.7ZM1420.5,1237.4 1423.5,1237.4 1433.1,1246.4 1433.1,1249.4 1430.1,1249.4 1420.5,1240.4ZM1430.1,1246.4 1436.3,1243.6 1439.3,1243.6 1439.3,1246.6 1433.1,1249.4 1430.1,1249.4ZM1436.3,1243.6 1438.6,1230.1 1441.6,1230.1 1441.6,1233.1 1439.3,1246.6 1436.3,1246.6ZM1438.6,1230.1 1441.4,1215.4 1444.4,1215.4 1444.4,1218.4 1441.6,1233.1 1438.6,1233.1ZM1441.4,1215.4 1443.6,1200.7 1446.6,1200.7 1446.6,1203.7 1444.4,1218.4 1441.4,1218.4ZM1443.6,1200.7 1445.3,1184.9 1448.3,1184.9 1448.3,1187.9 1446.6,1203.7 1443.6,1203.7ZM1445.3,1184.9 1447.6,1169.1 1450.6,1169.1 1450.6,1172.1 1448.3,1187.9 1445.3,1187.9ZM1447.6,1169.1 1450.4,1153.3 1453.4,1153.3 1453.4,1156.3 1450.6,1172.1 1447.6,1172.1ZM1450.4,1153.3 1453.2,1138.7 1456.2,1138.7 1456.2,1141.7 1453.4,1156.3 1450.4,1156.3ZM1453.2,1138.7 1459.0,1123.9 1462.0,1123.9 1462.0,1126.9 1456.2,1141.7 1453.2,1141.7ZM1459.0,1123.9 1465.8,1118.3 1468.8,1118.3 1468.8,1121.3 1462.0,1126.9 1459.0,1126.9ZM1465.8,1118.3 1466.9,1112.6 1469.9,1112.6 1469.9,1115.6 1468.8,1121.3 1465.8,1121.3ZM1466.9,1112.6 1467.5,1101.3 1470.5,1101.3 1470.5,1104.3 1469.9,1115.6 1466.9,1115.6ZM1467.5,1101.3 1468.1,1090.1 1471.1,1090.1 1471.1,1093.1 1470.5,1104.3 1467.5,1104.3ZM1468.1,1090.1 1468.8,1082.2 1471.8,1082.2 1471.8,1085.2 1471.1,1093.1 1468.1,1093.1ZM1468.8,1082.2 1472.0,1067.5 1475.0,1067.5 1475.0,1070.5 1471.8,1085.2 1468.8,1085.2ZM1472.0,1067.5 1475.4,1053.9 1478.4,1053.9 1478.4,1056.9 1475.0,1070.5 1472.0,1070.5ZM1475.4,1053.9 1478.8,1041.5 1481.8,1041.5 1481.8,1044.5 1478.4,1056.9 1475.4,1056.9ZM1478.8,1041.5 1480.8,1037.0 1483.8,1037.0 1483.8,1040.0 1481.8,1044.5 1478.8,1044.5ZM1480.8,1037.0 1483.8,1037.0 1486.9,1046.0 1486.9,1049.0 1483.9,1049.0 1480.8,1040.0ZM1483.9,1046.0 1486.9,1046.0 1489.7,1055.1 1489.7,1058.1 1486.7,1058.1 1483.9,1049.0ZM1486.7,1055.1 1489.7,1055.1 1495.3,1063.0 1495.3,1066.0 1492.3,1066.0 1486.7,1058.1ZM1492.3,1063.0 1495.3,1063.0 1501.5,1072.0 1501.5,1075.0 1498.5,1075.0 1492.3,1066.0ZM1498.5,1072.0 1501.5,1072.0 1504.3,1083.3 1504.3,1086.3 1501.3,1086.3 1498.5,1075.0ZM1501.3,1083.3 1504.3,1083.3 1510.0,1091.2 1510.0,1094.2 1507.0,1094.2 1501.3,1086.3ZM1507.0,1091.2 1510.0,1091.2 1516.8,1104.7 1516.8,1107.7 1513.8,1107.7 1507.0,1094.2ZM1513.8,1104.7 1516.8,1104.7 1518.4,1112.6 1518.4,1115.6 1515.4,1115.6 1513.8,1107.7ZM1515.4,1112.6 1518.4,1112.6 1520.1,1126.2 1520.1,1129.2 1517.1,1129.2 1515.4,1115.6ZM1517.1,1126.2 1520.1,1126.2 1521.3,1133.5 1521.3,1136.5 1518.3,1136.5 1517.1,1129.2ZM1518.3,1133.5 1521.3,1133.5 1522.8,1143.2 1522.8,1146.2 1519.8,1146.2 1518.3,1136.5ZM1519.8,1143.2 1522.8,1143.2 1525.6,1162.4 1525.6,1165.4 1522.6,1165.4 1519.8,1146.2ZM1522.6,1162.4 1525.6,1162.4 1528.4,1181.5 1528.4,1184.5 1525.4,1184.5 1522.6,1165.4ZM1525.4,1181.5 1528.4,1181.5 1531.3,1192.8 1531.3,1195.8 1528.3,1195.8 1525.4,1184.5ZM1528.3,1192.8 1531.3,1192.8 1534.7,1201.8 1534.7,1204.8 1531.7,1204.8 1528.3,1195.8ZM1531.7,1201.8 1534.7,1201.8 1540.9,1208.1 1540.9,1211.1 1537.9,1211.1 1531.7,1204.8ZM1537.9,1208.1 1545.2,1208.1 1545.2,1211.1 1537.9,1211.1ZM1542.2,1208.1 1545.2,1208.1 1549.7,1210.3 1549.7,1213.3 1546.7,1213.3 1542.2,1211.1ZM1546.7,1210.3 1549.7,1210.3 1554.2,1222.2 1554.2,1225.2 1551.2,1225.2 1546.7,1213.3ZM1551.2,1222.2 1554.2,1222.2 1561.0,1231.7 1561.0,1234.7 1558.0,1234.7 1551.2,1225.2ZM1558.0,1231.7 1561.0,1231.7 1574.0,1237.4 1574.0,1240.4 1571.0,1240.4 1558.0,1234.7ZM1571.0,1237.4 1573.8,1218.8 1576.8,1218.8 1576.8,1221.8 1574.0,1240.4 1571.0,1240.4ZM1573.8,1218.8 1576.0,1201.8 1579.0,1201.8 1579.0,1204.8 1576.8,1221.8 1573.8,1221.8ZM1576.0,1201.8 1578.3,1182.7 1581.3,1182.7 1581.3,1185.7 1579.0,1204.8 1576.0,1204.8ZM1578.3,1182.7 1581.1,1168.0 1584.1,1168.0 1584.1,1171.0 1581.3,1185.7 1578.3,1185.7ZM1581.1,1168.0 1584.5,1151.1 1587.5,1151.1 1587.5,1154.1 1584.1,1171.0 1581.1,1171.0ZM1584.5,1151.1 1587.3,1137.5 1590.3,1137.5 1590.3,1140.5 1587.5,1154.1 1584.5,1154.1ZM1587.3,1137.5 1588.7,1128.5 1591.7,1128.5 1591.7,1131.5 1590.3,1140.5 1587.3,1140.5ZM1588.7,1128.5 1589.4,1118.3 1592.4,1118.3 1592.4,1121.3 1591.7,1131.5 1588.7,1131.5ZM1589.4,1118.3 1591.6,1101.3 1594.6,1101.3 1594.6,1104.3 1592.4,1121.3 1589.4,1121.3ZM1591.6,1101.3 1597.8,1088.9 1600.8,1088.9 1600.8,1091.9 1594.6,1104.3 1591.6,1104.3ZM1597.8,1088.9 1599.5,1076.5 1602.5,1076.5 1602.5,1079.5 1600.8,1091.9 1597.8,1091.9ZM1599.5,1076.5 1601.2,1061.8 1604.2,1061.8 1604.2,1064.8 1602.5,1079.5 1599.5,1079.5ZM1601.2,1061.8 1602.9,1049.4 1605.9,1049.4 1605.9,1052.4 1604.2,1064.8 1601.2,1064.8ZM1602.9,1049.4 1604.6,1040.4 1607.6,1040.4 1607.6,1043.4 1605.9,1052.4 1602.9,1052.4ZM1604.6,1040.4 1608.0,1029.1 1611.0,1029.1 1611.0,1032.1 1607.6,1043.4 1604.6,1043.4ZM1608.0,1029.1 1611.4,1015.6 1614.4,1015.6 1614.4,1018.6 1611.0,1032.1 1608.0,1032.1ZM1611.4,1015.6 1612.5,1012.8 1615.5,1012.8 1615.5,1015.8 1614.4,1018.6 1611.4,1018.6ZM1612.5,1012.8 1619.3,1007.1 1622.3,1007.1 1622.3,1010.1 1615.5,1015.8 1612.5,1015.8ZM1619.3,1007.1 1622.3,1007.1 1625.1,1017.8 1625.1,1020.8 1622.1,1020.8 1619.3,1010.1ZM1622.1,1017.8 1625.1,1017.8 1628.5,1026.9 1628.5,1029.9 1625.5,1029.9 1622.1,1020.8ZM1625.5,1026.9 1628.5,1026.9 1634.1,1039.3 1634.1,1042.3 1631.1,1042.3 1625.5,1029.9ZM1631.1,1039.3 1634.1,1039.3 1636.4,1051.7 1636.4,1054.7 1633.4,1054.7 1631.1,1042.3ZM1633.4,1051.7 1636.4,1051.7 1639.2,1069.7 1639.2,1072.7 1636.2,1072.7 1633.4,1054.7ZM1636.2,1069.7 1639.2,1069.7 1641.4,1077.6 1641.4,1080.6 1638.4,1080.6 1636.2,1072.7ZM1638.4,1077.6 1641.4,1077.6 1646.5,1090.1 1646.5,1093.1 1643.5,1093.1 1638.4,1080.6ZM1643.5,1090.1 1646.5,1090.1 1649.9,1103.6 1649.9,1106.6 1646.9,1106.6 1643.5,1093.1ZM1646.9,1103.6 1649.9,1103.6 1653.3,1120.5 1653.3,1123.5 1650.3,1123.5 1646.9,1106.6ZM1650.3,1120.5 1653.3,1120.5 1655.5,1133.5 1655.5,1136.5 1652.5,1136.5 1650.3,1123.5ZM1652.5,1133.5 1655.5,1133.5 1656.3,1143.2 1656.3,1146.2 1653.3,1146.2 1652.5,1136.5ZM1653.3,1143.2 1656.3,1143.2 1658.6,1161.2 1658.6,1164.2 1655.6,1164.2 1653.3,1146.2ZM1655.6,1161.2 1658.6,1161.2 1660.9,1180.4 1660.9,1183.4 1657.9,1183.4 1655.6,1164.2ZM1657.9,1180.4 1660.9,1180.4 1663.1,1191.7 1663.1,1194.7 1660.1,1194.7 1657.9,1183.4ZM1660.1,1191.7 1663.1,1191.7 1665.9,1204.1 1665.9,1207.1 1662.9,1207.1 1660.1,1194.7ZM1662.9,1204.1 1665.9,1204.1 1672.7,1206.9 1672.7,1209.9 1669.7,1209.9 1662.9,1207.1ZM1669.7,1206.9 1672.7,1206.9 1678.3,1218.8 1678.3,1221.8 1675.3,1221.8 1669.7,1209.9ZM1675.3,1218.8 1678.3,1218.8 1684.0,1226.7 1684.0,1229.7 1681.0,1229.7 1675.3,1221.8ZM1681.0,1226.7 1684.0,1226.7 1687.4,1234.6 1687.4,1237.6 1684.4,1237.6 1681.0,1229.7ZM1684.4,1234.6 1687.4,1234.6 1706.0,1243.6 1706.0,1246.6 1703.0,1246.6 1684.4,1237.6ZM1703.0,1243.6 1705.8,1227.8 1708.8,1227.8 1708.8,1230.8 1706.0,1246.6 1703.0,1246.6ZM1705.8,1227.8 1708.6,1210.9 1711.6,1210.9 1711.6,1213.9 1708.8,1230.8 1705.8,1230.8ZM1708.6,1210.9 1710.9,1200.7 1713.9,1200.7 1713.9,1203.7 1711.6,1213.9 1708.6,1213.9ZM1710.9,1200.7 1714.3,1187.2 1717.3,1187.2 1717.3,1190.2 1713.9,1203.7 1710.9,1203.7ZM1714.3,1187.2 1717.7,1168.0 1720.7,1168.0 1720.7,1171.0 1717.3,1190.2 1714.3,1190.2ZM1717.7,1168.0 1721.6,1156.7 1724.6,1156.7 1724.6,1159.7 1720.7,1171.0 1717.7,1171.0ZM1721.6,1156.7 1726.1,1145.4 1729.1,1145.4 1729.1,1148.4 1724.6,1159.7 1721.6,1159.7ZM1726.1,1145.4 1730.1,1135.3 1733.1,1135.3 1733.1,1138.3 1729.1,1148.4 1726.1,1148.4ZM1730.1,1135.3 1731.2,1128.5 1734.2,1128.5 1734.2,1131.5 1733.1,1138.3 1730.1,1138.3ZM1731.2,1128.5 1731.9,1117.1 1734.9,1117.1 1734.9,1120.1 1734.2,1131.5 1731.2,1131.5ZM1731.9,1117.1 1733.6,1101.3 1736.6,1101.3 1736.6,1104.3 1734.9,1120.1 1731.9,1120.1ZM1733.6,1101.3 1735.9,1087.8 1738.9,1087.8 1738.9,1090.8 1736.6,1104.3 1733.6,1104.3ZM1735.9,1087.8 1738.1,1074.3 1741.1,1074.3 1741.1,1077.3 1738.9,1090.8 1735.9,1090.8ZM1738.1,1074.3 1740.4,1063.0 1743.4,1063.0 1743.4,1066.0 1741.1,1077.3 1738.1,1077.3ZM1740.4,1063.0 1742.1,1056.2 1745.1,1056.2 1745.1,1059.2 1743.4,1066.0 1740.4,1066.0ZM1742.1,1056.2 1747.7,1043.8 1750.7,1043.8 1750.7,1046.8 1745.1,1059.2 1742.1,1059.2ZM1747.7,1043.8 1748.9,1025.7 1751.9,1025.7 1751.9,1028.7 1750.7,1046.8 1747.7,1046.8ZM1748.9,1025.7 1749.6,1007.7 1752.6,1007.7 1752.6,1010.7 1751.9,1028.7 1748.9,1028.7ZM1749.6,1007.7 1750.8,994.1 1753.8,994.1 1753.8,997.1 1752.6,1010.7 1749.6,1010.7ZM1750.8,994.1 1751.2,988.5 1754.2,988.5 1754.2,991.5 1753.8,997.1 1750.8,997.1ZM1751.2,988.5 1751.6,979.8 1754.6,979.8 1754.6,982.8 1754.2,991.5 1751.2,991.5ZM1751.6,979.8 1752.3,963.6 1755.3,963.6 1755.3,966.6 1754.6,982.8 1751.6,982.8ZM1752.3,963.6 1753.2,945.8 1756.2,945.8 1756.2,948.8 1755.3,966.6 1752.3,966.6ZM1753.2,945.8 1754.1,934.7 1757.1,934.7 1757.1,937.7 1756.2,948.8 1753.2,948.8ZM1754.1,934.7 1755.1,930.3 1758.1,930.3 1758.1,933.3 1757.1,937.7 1754.1,937.7ZM1755.1,930.3 1756.0,927.0 1759.0,927.0 1759.0,930.0 1758.1,933.3 1755.1,933.3ZM1756.0,927.0 1757.1,925.5 1760.1,925.5 1760.1,928.5 1759.0,930.0 1756.0,930.0ZM1757.1,925.5 1760.1,925.5 1761.4,927.0 1761.4,930.0 1758.4,930.0 1757.1,928.5ZM1758.4,927.0 1761.4,927.0 1765.1,932.5 1765.1,935.5 1762.1,935.5 1758.4,930.0ZM1762.1,932.5 1765.1,932.5 1767.3,936.9 1767.3,939.9 1764.3,939.9 1762.1,935.5ZM1764.3,936.9 1767.3,936.9 1769.1,944.3 1769.1,947.3 1766.1,947.3 1764.3,939.9ZM1766.1,944.3 1769.1,944.3 1771.4,952.5 1771.4,955.5 1768.4,955.5 1766.1,947.3ZM1768.4,952.5 1771.4,952.5 1774.3,959.9 1774.3,962.9 1771.3,962.9 1768.4,955.5ZM1771.3,959.9 1774.3,959.9 1777.6,968.7 1777.6,971.7 1774.6,971.7 1771.3,962.9ZM1774.6,968.7 1777.6,968.7 1779.1,974.6 1779.1,977.6 1776.1,977.6 1774.6,971.7ZM1776.1,974.6 1779.1,974.6 1780.2,982.0 1780.2,985.0 1777.2,985.0 1776.1,977.6ZM1777.2,982.0 1780.2,982.0 1781.3,988.7 1781.3,991.7 1778.3,991.7 1777.2,985.0ZM1778.3,988.7 1781.3,988.7 1781.7,993.5 1781.7,996.5 1778.7,996.5 1778.3,991.7ZM1778.7,993.5 1781.7,993.5 1782.9,999.8 1782.9,1002.8 1779.9,1002.8 1778.7,996.5ZM1779.9,999.8 1782.9,999.8 1784.6,1016.7 1784.6,1019.7 1781.6,1019.7 1779.9,1002.8ZM1781.6,1016.7 1784.6,1016.7 1785.4,1033.6 1785.4,1036.6 1782.4,1036.6 1781.6,1019.7ZM1782.4,1033.6 1785.4,1033.6 1786.5,1049.4 1786.5,1052.4 1783.5,1052.4 1782.4,1036.6ZM1783.5,1049.4 1786.5,1049.4 1787.4,1065.2 1787.4,1068.2 1784.4,1068.2 1783.5,1052.4ZM1784.4,1065.2 1787.4,1065.2 1788.5,1081.0 1788.5,1084.0 1785.5,1084.0 1784.4,1068.2ZM1785.5,1081.0 1788.5,1081.0 1789.4,1096.8 1789.4,1099.8 1786.4,1099.8 1785.5,1084.0ZM1786.4,1096.8 1789.4,1096.8 1790.2,1112.6 1790.2,1115.6 1787.2,1115.6 1786.4,1099.8ZM1787.2,1112.6 1790.2,1112.6 1791.0,1133.5 1791.0,1136.5 1788.0,1136.5 1787.2,1115.6ZM1788.0,1133.5 1791.0,1133.5 1791.6,1142.0 1791.6,1145.0 1788.6,1145.0 1788.0,1136.5ZM1788.6,1142.0 1791.6,1142.0 1792.1,1168.0 1792.1,1171.0 1789.1,1171.0 1788.6,1145.0ZM1789.1,1168.0 1792.1,1168.0 1793.3,1182.7 1793.3,1185.7 1790.3,1185.7 1789.1,1171.0ZM1790.3,1182.7 1793.3,1182.7 1796.1,1200.7 1796.1,1203.7 1793.1,1203.7 1790.3,1185.7ZM1793.1,1200.7 1796.1,1200.7 1798.9,1214.3 1798.9,1217.3 1795.9,1217.3 1793.1,1203.7ZM1795.9,1214.3 1798.9,1214.3 1804.6,1233.4 1804.6,1236.4 1801.6,1236.4 1795.9,1217.3ZM1801.6,1233.4 1804.6,1233.4 1809.6,1243.6 1809.6,1246.6 1806.6,1246.6 1801.6,1236.4ZM1806.6,1243.6 1809.6,1243.6 1817.0,1247.0 1817.0,1250.0 1814.0,1250.0 1806.6,1246.6ZM1814.0,1247.0 1824.3,1247.0 1824.3,1250.0 1814.0,1250.0ZM1821.3,1247.0 1824.3,1247.0 1829.4,1250.1 1829.4,1253.1 1826.4,1253.1 1821.3,1250.0ZM1826.4,1250.1 1839.0,1250.1 1839.0,1253.1 1826.4,1253.1ZM1836.0,1250.1 1839.0,1250.1 1844.0,1252.9 1844.0,1255.9 1841.0,1255.9 1836.0,1253.1ZM1841.0,1252.9 1850.8,1252.9 1850.8,1255.9 1841.0,1255.9ZM1847.8,1252.9 1852.3,1244.2 1855.3,1244.2 1855.3,1247.2 1850.8,1255.9 1847.8,1255.9ZM1852.3,1244.2 1859.1,1240.8 1862.1,1240.8 1862.1,1243.8 1855.3,1247.2 1852.3,1247.2ZM1859.1,1240.8 1861.4,1235.1 1864.4,1235.1 1864.4,1238.1 1862.1,1243.8 1859.1,1243.8ZM1861.4,1235.1 1871.1,1235.1 1871.1,1238.1 1861.4,1238.1ZM1868.1,1235.1 1884.5,1226.1 1887.5,1226.1 1887.5,1229.1 1871.1,1238.1 1868.1,1238.1ZM1884.5,1226.1 1896.0,1226.1 1896.0,1229.1 1884.5,1229.1ZM1893.0,1226.1 1896.0,1226.1 1901.0,1228.9 1901.0,1231.9 1898.0,1231.9 1893.0,1229.1ZM1898.0,1228.9 1900.3,1219.9 1903.3,1219.9 1903.3,1222.9 1901.0,1231.9 1898.0,1231.9ZM1900.3,1219.9 1911.8,1219.9 1911.8,1222.9 1900.3,1222.9ZM1908.8,1219.9 1911.8,1219.9 1915.1,1222.2 1915.1,1225.2 1912.1,1225.2 1908.8,1222.9ZM1912.1,1222.2 1915.1,1222.2 1921.9,1228.4 1921.9,1231.4 1918.9,1231.4 1912.1,1225.2ZM1918.9,1228.4 1921.9,1228.4 1928.1,1231.7 1928.1,1234.7 1925.1,1234.7 1918.9,1231.4ZM1925.1,1231.7 1933.8,1231.7 1933.8,1234.7 1925.1,1234.7ZM1930.8,1231.7 1933.8,1231.7 1936.6,1237.4 1936.6,1240.4 1933.6,1240.4 1930.8,1234.7ZM1933.6,1237.4 1936.6,1237.4 1949.0,1249.8 1949.0,1252.8 1946.0,1252.8 1933.6,1240.4ZM1946.0,1249.8 1973.3,1249.8 1973.3,1252.8 1946.0,1252.8ZM1970.3,1249.8 1974.2,1245.9 1977.2,1245.9 1977.2,1248.9 1973.3,1252.8 1970.3,1252.8ZM1974.2,1245.9 1978.2,1238.0 1981.2,1238.0 1981.2,1241.0 1977.2,1248.9 1974.2,1248.9ZM1978.2,1238.0 1984.9,1231.7 1987.9,1231.7 1987.9,1234.7 1981.2,1241.0 1978.2,1241.0ZM1984.9,1231.7 1994.1,1231.7 1994.1,1234.7 1984.9,1234.7ZM1991.1,1231.7 1997.3,1228.9 2000.3,1228.9 2000.3,1231.9 1994.1,1234.7 1991.1,1234.7ZM1997.3,1228.9 2003.0,1223.1 2006.0,1223.1 2006.0,1226.1 2000.3,1231.9 1997.3,1231.9ZM2003.0,1223.1 2009.4,1223.1 2009.4,1226.1 2003.0,1226.1ZM2006.4,1223.1 2009.4,1223.1 2020.6,1234.6 2020.6,1237.6 2017.6,1237.6 2006.4,1226.1ZM2017.6,1234.6 2020.6,1234.6 2026.9,1237.4 2026.9,1240.4 2023.9,1240.4 2017.6,1237.6ZM2023.9,1237.4 2027.8,1226.7 2030.8,1226.7 2030.8,1229.7 2026.9,1240.4 2023.9,1240.4ZM2027.8,1226.7 2030.1,1222.2 2033.1,1222.2 2033.1,1225.2 2030.8,1229.7 2027.8,1229.7ZM2030.1,1222.2 2036.3,1217.1 2039.3,1217.1 2039.3,1220.1 2033.1,1225.2 2030.1,1225.2ZM2036.3,1217.1 2045.5,1217.1 2045.5,1220.1 2036.3,1220.1ZM2042.5,1217.1 2046.4,1213.1 2049.4,1213.1 2049.4,1216.1 2045.5,1220.1 2042.5,1220.1ZM2046.4,1213.1 2051.5,1210.9 2054.5,1210.9 2054.5,1213.9 2049.4,1216.1 2046.4,1216.1ZM2051.5,1210.9 2057.1,1205.8 2060.1,1205.8 2060.1,1208.8 2054.5,1213.9 2051.5,1213.9ZM2057.1,1205.8 2060.1,1205.8 2066.3,1208.1 2066.3,1211.1 2063.3,1211.1 2057.1,1208.8ZM2063.3,1208.1 2073.1,1208.1 2073.1,1211.1 2063.3,1211.1ZM2070.1,1208.1 2073.1,1208.1 2077.5,1210.3 2077.5,1213.3 2074.5,1213.3 2070.1,1211.1ZM2074.5,1210.3 2077.5,1210.3 2087.0,1219.9 2087.0,1222.9 2084.0,1222.9 2074.5,1213.3ZM2084.0,1219.9 2087.0,1219.9 2092.1,1234.6 2092.1,1237.6 2089.1,1237.6 2084.0,1222.9ZM2089.1,1234.6 2092.1,1234.6 2098.9,1240.8 2098.9,1243.8 2095.9,1243.8 2089.1,1237.6ZM2095.9,1240.8 2102.1,1235.1 2105.1,1235.1 2105.1,1238.1 2098.9,1243.8 2095.9,1243.8ZM2102.1,1235.1 2104.9,1219.9 2107.9,1219.9 2107.9,1222.9 2105.1,1238.1 2102.1,1238.1ZM2104.9,1219.9 2108.3,1200.7 2111.3,1200.7 2111.3,1203.7 2107.9,1222.9 2104.9,1222.9ZM2108.3,1200.7 2111.1,1184.9 2114.1,1184.9 2114.1,1187.9 2111.3,1203.7 2108.3,1203.7ZM2111.1,1184.9 2113.9,1170.3 2116.9,1170.3 2116.9,1173.3 2114.1,1187.9 2111.1,1187.9ZM2113.9,1170.3 2115.6,1155.6 2118.6,1155.6 2118.6,1158.6 2116.9,1173.3 2113.9,1173.3ZM2115.6,1155.6 2116.8,1140.9 2119.8,1140.9 2119.8,1143.9 2118.6,1158.6 2115.6,1158.6ZM2116.8,1140.9 2120.7,1133.0 2123.7,1133.0 2123.7,1136.0 2119.8,1143.9 2116.8,1143.9ZM2120.7,1133.0 2123.0,1128.5 2126.0,1128.5 2126.0,1131.5 2123.7,1136.0 2120.7,1136.0ZM2123.0,1128.5 2125.2,1119.4 2128.2,1119.4 2128.2,1122.4 2126.0,1131.5 2123.0,1131.5ZM2125.2,1119.4 2128.1,1105.9 2131.1,1105.9 2131.1,1108.9 2128.2,1122.4 2125.2,1122.4ZM2128.1,1105.9 2131.4,1096.8 2134.4,1096.8 2134.4,1099.8 2131.1,1108.9 2128.1,1108.9ZM2131.4,1096.8 2134.8,1090.1 2137.8,1090.1 2137.8,1093.1 2134.4,1099.8 2131.4,1099.8ZM2134.8,1090.1 2141.6,1086.7 2144.6,1086.7 2144.6,1089.7 2137.8,1093.1 2134.8,1093.1ZM2141.6,1086.7 2144.4,1077.6 2147.4,1077.6 2147.4,1080.6 2144.6,1089.7 2141.6,1089.7ZM2144.4,1077.6 2146.9,1069.2 2149.9,1069.2 2149.9,1072.2 2147.4,1080.6 2144.4,1080.6ZM2146.9,1069.2 2149.9,1069.2 2151.9,1075.4 2151.9,1078.4 2148.9,1078.4 2146.9,1072.2ZM2148.9,1075.4 2151.9,1075.4 2164.3,1081.0 2164.3,1084.0 2161.3,1084.0 2148.9,1078.4ZM2161.3,1081.0 2164.3,1081.0 2171.1,1094.6 2171.1,1097.6 2168.1,1097.6 2161.3,1084.0ZM2168.1,1094.6 2171.1,1094.6 2176.8,1110.4 2176.8,1113.4 2173.8,1113.4 2168.1,1097.6ZM2173.8,1110.4 2176.8,1110.4 2180.1,1123.9 2180.1,1126.9 2177.1,1126.9 2173.8,1113.4ZM2177.1,1123.9 2180.1,1123.9 2183.0,1133.5 2183.0,1136.5 2180.0,1136.5 2177.1,1126.9ZM2179.4,1133.0 2182.4,1133.0 2183.0,1133.5 2183.0,1136.5 2180.0,1136.5 2179.4,1136.0ZM2179.4,1133.0 2182.4,1133.0 2188.6,1145.4 2188.6,1148.4 2185.6,1148.4 2179.4,1136.0ZM2185.6,1145.4 2188.6,1145.4 2189.7,1161.2 2189.7,1164.2 2186.7,1164.2 2185.6,1148.4ZM2186.7,1161.2 2189.7,1161.2 2191.4,1177.0 2191.4,1180.0 2188.4,1180.0 2186.7,1164.2ZM2188.4,1177.0 2191.4,1177.0 2194.8,1190.6 2194.8,1193.6 2191.8,1193.6 2188.4,1180.0ZM2191.8,1190.6 2194.8,1190.6 2198.0,1201.8 2198.0,1204.8 2195.0,1204.8 2191.8,1193.6ZM2195.0,1201.8 2200.8,1193.4 2203.8,1193.4 2203.8,1196.4 2198.0,1204.8 2195.0,1204.8ZM2200.8,1193.4 2203.8,1193.4 2208.9,1195.1 2208.9,1198.1 2205.9,1198.1 2200.8,1196.4ZM2205.9,1195.1 2208.9,1195.1 2215.7,1201.3 2215.7,1204.3 2212.7,1204.3 2205.9,1198.1ZM2212.7,1201.3 2215.7,1201.3 2221.9,1205.0 2221.9,1208.0 2218.9,1208.0 2212.7,1204.3ZM2218.9,1205.0 2230.9,1205.0 2230.9,1208.0 2218.9,1208.0ZM2227.9,1205.0 2230.9,1205.0 2237.1,1210.9 2237.1,1213.9 2234.1,1213.9 2227.9,1208.0ZM2234.1,1210.9 2239.2,1197.3 2242.2,1197.3 2242.2,1200.3 2237.1,1213.9 2234.1,1213.9ZM2239.2,1197.3 2242.6,1184.9 2245.6,1184.9 2245.6,1187.9 2242.2,1200.3 2239.2,1200.3ZM2242.6,1184.9 2246.0,1172.5 2249.0,1172.5 2249.0,1175.5 2245.6,1187.9 2242.6,1187.9ZM2246.0,1172.5 2248.8,1161.2 2251.8,1161.2 2251.8,1164.2 2249.0,1175.5 2246.0,1175.5ZM2248.8,1161.2 2251.6,1151.1 2254.6,1151.1 2254.6,1154.1 2251.8,1164.2 2248.8,1164.2ZM2251.6,1151.1 2253.9,1138.7 2256.9,1138.7 2256.9,1141.7 2254.6,1154.1 2251.6,1154.1ZM2253.9,1138.7 2255.0,1128.5 2258.0,1128.5 2258.0,1131.5 2256.9,1141.7 2253.9,1141.7ZM2255.0,1128.5 2256.1,1117.1 2259.1,1117.1 2259.1,1120.1 2258.0,1131.5 2255.0,1131.5ZM2256.1,1117.1 2257.8,1101.3 2260.8,1101.3 2260.8,1104.3 2259.1,1120.1 2256.1,1120.1ZM2257.8,1101.3 2259.5,1082.2 2262.5,1082.2 2262.5,1085.2 2260.8,1104.3 2257.8,1104.3ZM2259.5,1082.2 2261.8,1066.4 2264.8,1066.4 2264.8,1069.4 2262.5,1085.2 2259.5,1085.2ZM2261.8,1066.4 2264.6,1051.7 2267.6,1051.7 2267.6,1054.7 2264.8,1069.4 2261.8,1069.4ZM2264.6,1051.7 2267.4,1041.5 2270.4,1041.5 2270.4,1044.5 2267.6,1054.7 2264.6,1054.7ZM2267.4,1041.5 2271.4,1031.4 2274.4,1031.4 2274.4,1034.4 2270.4,1044.5 2267.4,1044.5ZM2271.4,1031.4 2273.6,1020.1 2276.6,1020.1 2276.6,1023.1 2274.4,1034.4 2271.4,1034.4ZM2273.6,1020.1 2275.3,1007.7 2278.3,1007.7 2278.3,1010.7 2276.6,1023.1 2273.6,1023.1ZM2275.3,1007.7 2277.0,995.3 2280.0,995.3 2280.0,998.3 2278.3,1010.7 2275.3,1010.7ZM2277.0,995.3 2278.3,985.7 2281.3,985.7 2281.3,988.7 2280.0,998.3 2277.0,998.3ZM2278.3,985.7 2279.0,981.5 2282.0,981.5 2282.0,984.5 2281.3,988.7 2278.3,988.7ZM2279.0,981.5 2281.1,978.0 2284.1,978.0 2284.1,981.0 2282.0,984.5 2279.0,984.5ZM2281.1,978.0 2283.2,973.8 2286.2,973.8 2286.2,976.8 2284.1,981.0 2281.1,981.0ZM2283.2,973.8 2284.9,971.2 2287.9,971.2 2287.9,974.2 2286.2,976.8 2283.2,976.8ZM2284.9,971.2 2287.9,971.2 2290.0,976.3 2290.0,979.3 2287.0,979.3 2284.9,974.2ZM2287.0,976.3 2290.0,976.3 2291.8,982.6 2291.8,985.6 2288.8,985.6 2287.0,979.3ZM2288.8,982.6 2291.8,982.6 2293.5,987.8 2293.5,990.8 2290.5,990.8 2288.8,985.6ZM2290.5,987.8 2293.5,987.8 2295.2,998.7 2295.2,1001.7 2292.2,1001.7 2290.5,990.8ZM2292.2,998.7 2295.2,998.7 2296.9,1005.4 2296.9,1008.4 2293.9,1008.4 2292.2,1001.7ZM2293.9,1005.4 2296.9,1005.4 2308.8,1028.0 2308.8,1031.0 2305.8,1031.0 2293.9,1008.4ZM2305.8,1028.0 2308.8,1028.0 2312.2,1042.7 2312.2,1045.7 2309.2,1045.7 2305.8,1031.0ZM2309.2,1042.7 2312.2,1042.7 2316.1,1060.7 2316.1,1063.7 2313.1,1063.7 2309.2,1045.7ZM2313.1,1060.7 2316.1,1060.7 2320.1,1078.8 2320.1,1081.8 2317.1,1081.8 2313.1,1063.7ZM2317.1,1078.8 2320.1,1078.8 2323.4,1099.1 2323.4,1102.1 2320.4,1102.1 2317.1,1081.8ZM2320.4,1099.1 2323.4,1099.1 2325.7,1114.9 2325.7,1117.9 2322.7,1117.9 2320.4,1102.1ZM2322.7,1114.9 2325.7,1114.9 2328.5,1133.5 2328.5,1136.5 2325.5,1136.5 2322.7,1117.9ZM2325.5,1133.5 2328.5,1133.5 2331.3,1139.8 2331.3,1142.8 2328.3,1142.8 2325.5,1136.5ZM2328.3,1139.8 2331.3,1139.8 2333.6,1151.1 2333.6,1154.1 2330.6,1154.1 2328.3,1142.8ZM2330.6,1151.1 2333.6,1151.1 2335.3,1162.4 2335.3,1165.4 2332.3,1165.4 2330.6,1154.1ZM2332.3,1162.4 2335.3,1162.4 2336.4,1174.8 2336.4,1177.8 2333.4,1177.8 2332.3,1165.4ZM2333.4,1174.8 2336.4,1174.8 2341.9,1182.7 2341.9,1185.7 2338.9,1185.7 2333.4,1177.8ZM2338.9,1182.7 2341.9,1182.7 2349.2,1198.5 2349.2,1201.5 2346.2,1201.5 2338.9,1185.7ZM2346.2,1198.5 2349.2,1198.5 2353.7,1212.0 2353.7,1215.0 2350.7,1215.0 2346.2,1201.5ZM2350.7,1212.0 2353.7,1212.0 2359.4,1219.3 2359.4,1222.3 2356.4,1222.3 2350.7,1215.0ZM2356.4,1219.3 2359.4,1219.3 2365.6,1222.2 2365.6,1225.2 2362.6,1225.2 2356.4,1222.3ZM2362.6,1222.2 2365.6,1222.2 2369.0,1232.3 2369.0,1235.3 2366.0,1235.3 2362.6,1225.2ZM2366.0,1232.3 2369.4,1217.6 2372.4,1217.6 2372.4,1220.6 2369.0,1235.3 2366.0,1235.3ZM2369.4,1217.6 2372.2,1205.2 2375.2,1205.2 2375.2,1208.2 2372.4,1220.6 2369.4,1220.6ZM2372.2,1205.2 2375.0,1192.8 2378.0,1192.8 2378.0,1195.8 2375.2,1208.2 2372.2,1208.2ZM2375.0,1192.8 2378.4,1179.3 2381.4,1179.3 2381.4,1182.3 2378.0,1195.8 2375.0,1195.8ZM2378.4,1179.3 2381.2,1165.7 2384.2,1165.7 2384.2,1168.7 2381.4,1182.3 2378.4,1182.3ZM2381.2,1165.7 2383.5,1153.3 2386.5,1153.3 2386.5,1156.3 2384.2,1168.7 2381.2,1168.7ZM2383.5,1153.3 2386.8,1143.2 2389.8,1143.2 2389.8,1146.2 2386.5,1156.3 2383.5,1156.3ZM2386.8,1143.2 2390.2,1134.1 2393.2,1134.1 2393.2,1137.1 2389.8,1146.2 2386.8,1146.2ZM2390.2,1134.1 2391.9,1128.5 2394.9,1128.5 2394.9,1131.5 2393.2,1137.1 2390.2,1137.1ZM2391.9,1128.5 2393.6,1120.5 2396.6,1120.5 2396.6,1123.5 2394.9,1131.5 2391.9,1131.5ZM2393.6,1120.5 2396.4,1108.1 2399.4,1108.1 2399.4,1111.1 2396.6,1123.5 2393.6,1123.5ZM2396.4,1108.1 2397.6,1095.7 2400.6,1095.7 2400.6,1098.7 2399.4,1111.1 2396.4,1111.1ZM2397.6,1095.7 2398.7,1082.2 2401.7,1082.2 2401.7,1085.2 2400.6,1098.7 2397.6,1098.7ZM2398.7,1082.2 2399.8,1069.7 2402.8,1069.7 2402.8,1072.7 2401.7,1085.2 2398.7,1085.2ZM2399.8,1069.7 2401.0,1056.2 2404.0,1056.2 2404.0,1059.2 2402.8,1072.7 2399.8,1072.7ZM2401.0,1056.2 2402.3,1042.7 2405.3,1042.7 2405.3,1045.7 2404.0,1059.2 2401.0,1059.2ZM2402.3,1042.7 2403.2,1028.0 2406.2,1028.0 2406.2,1031.0 2405.3,1045.7 2402.3,1045.7ZM2403.2,1028.0 2404.3,1014.5 2407.3,1014.5 2407.3,1017.5 2406.2,1031.0 2403.2,1031.0ZM2404.3,1014.5 2405.1,1007.1 2408.1,1007.1 2408.1,1010.1 2407.3,1017.5 2404.3,1017.5ZM2405.1,1007.1 2426.5,1007.1 2426.5,1010.1 2405.1,1010.1ZM2423.5,1007.1 2426.5,1007.1 2431.6,1014.5 2431.6,1017.5 2428.6,1017.5 2423.5,1010.1ZM2428.6,1014.5 2431.6,1014.5 2433.9,1024.6 2433.9,1027.6 2430.9,1027.6 2428.6,1017.5ZM2430.9,1024.6 2433.9,1024.6 2437.8,1038.2 2437.8,1041.2 2434.8,1041.2 2430.9,1027.6ZM2434.8,1038.2 2437.8,1038.2 2438.9,1051.7 2438.9,1054.7 2435.9,1054.7 2434.8,1041.2ZM2435.9,1051.7 2438.9,1051.7 2440.1,1067.5 2440.1,1070.5 2437.1,1070.5 2435.9,1054.7ZM2437.1,1067.5 2440.1,1067.5 2440.6,1079.9 2440.6,1082.9 2437.6,1082.9 2437.1,1070.5ZM2437.6,1079.9 2440.6,1079.9 2446.3,1092.3 2446.3,1095.3 2443.3,1095.3 2437.6,1082.9ZM2443.3,1092.3 2446.3,1092.3 2449.7,1104.7 2449.7,1107.7 2446.7,1107.7 2443.3,1095.3ZM2446.7,1104.7 2449.7,1104.7 2453.0,1118.3 2453.0,1121.3 2450.0,1121.3 2446.7,1107.7ZM2450.0,1118.3 2453.0,1118.3 2455.5,1133.5 2455.5,1136.5 2452.5,1136.5 2450.0,1121.3ZM2452.5,1133.5 2455.5,1133.5 2456.4,1139.8 2456.4,1142.8 2453.4,1142.8 2452.5,1136.5ZM2453.4,1139.8 2456.4,1139.8 2459.2,1154.5 2459.2,1157.5 2456.2,1157.5 2453.4,1142.8ZM2456.2,1154.5 2459.2,1154.5 2462.1,1170.3 2462.1,1173.3 2459.1,1173.3 2456.2,1157.5ZM2459.1,1170.3 2462.1,1170.3 2464.9,1186.0 2464.9,1189.0 2461.9,1189.0 2459.1,1173.3ZM2461.9,1186.0 2464.9,1186.0 2470.5,1201.8 2470.5,1204.8 2467.5,1204.8 2461.9,1189.0ZM2467.5,1201.8 2470.5,1201.8 2477.3,1208.1 2477.3,1211.1 2474.3,1211.1 2467.5,1204.8ZM2474.3,1208.1 2477.3,1208.1 2479.6,1222.2 2479.6,1225.2 2476.6,1225.2 2474.3,1211.1ZM2476.6,1222.2 2479.6,1222.2 2486.3,1225.8 2486.3,1228.8 2483.3,1228.8 2476.6,1225.2ZM2483.3,1225.8 2493.1,1225.8 2493.1,1228.8 2483.3,1228.8ZM2490.1,1225.8 2493.1,1225.8 2497.6,1228.4 2497.6,1231.4 2494.6,1231.4 2490.1,1228.8ZM2494.6,1228.4 2499.7,1222.2 2502.7,1222.2 2502.7,1225.2 2497.6,1231.4 2494.6,1231.4ZM2499.7,1222.2 2504.2,1212.0 2507.2,1212.0 2507.2,1215.0 2502.7,1225.2 2499.7,1225.2ZM2504.2,1212.0 2507.0,1203.0 2510.0,1203.0 2510.0,1206.0 2507.2,1215.0 2504.2,1215.0ZM2507.0,1203.0 2508.5,1189.4 2511.5,1189.4 2511.5,1192.4 2510.0,1206.0 2507.0,1206.0ZM2508.5,1189.4 2509.8,1177.0 2512.8,1177.0 2512.8,1180.0 2511.5,1192.4 2508.5,1192.4ZM2509.8,1177.0 2516.6,1164.6 2519.6,1164.6 2519.6,1167.6 2512.8,1180.0 2509.8,1180.0ZM2516.6,1164.6 2518.9,1153.3 2521.9,1153.3 2521.9,1156.3 2519.6,1167.6 2516.6,1167.6ZM2518.9,1153.3 2521.7,1136.4 2524.7,1136.4 2524.7,1139.4 2521.9,1156.3 2518.9,1156.3ZM2521.7,1136.4 2524.5,1128.5 2527.5,1128.5 2527.5,1131.5 2524.7,1139.4 2521.7,1139.4ZM2524.5,1128.5 2527.9,1120.5 2530.9,1120.5 2530.9,1123.5 2527.5,1131.5 2524.5,1131.5ZM2527.9,1120.5 2531.3,1108.1 2534.3,1108.1 2534.3,1111.1 2530.9,1123.5 2527.9,1123.5ZM2531.3,1108.1 2534.7,1094.6 2537.7,1094.6 2537.7,1097.6 2534.3,1111.1 2531.3,1111.1ZM2534.7,1094.6 2536.9,1082.2 2539.9,1082.2 2539.9,1085.2 2537.7,1097.6 2534.7,1097.6ZM2536.9,1082.2 2539.2,1069.7 2542.2,1069.7 2542.2,1072.7 2539.9,1085.2 2536.9,1085.2ZM2539.2,1069.7 2542.6,1057.3 2545.6,1057.3 2545.6,1060.3 2542.2,1072.7 2539.2,1072.7ZM2542.6,1057.3 2546.0,1044.9 2549.0,1044.9 2549.0,1047.9 2545.6,1060.3 2542.6,1060.3ZM2546.0,1044.9 2548.0,1037.0 2551.0,1037.0 2551.0,1040.0 2549.0,1047.9 2546.0,1047.9ZM2548.0,1037.0 2555.0,1031.2 2558.0,1031.2 2558.0,1034.2 2551.0,1040.0 2548.0,1040.0ZM2555.0,1031.2 2558.0,1031.2 2563.6,1038.2 2563.6,1041.2 2560.6,1041.2 2555.0,1034.2ZM2560.6,1038.2 2563.6,1038.2 2570.4,1052.8 2570.4,1055.8 2567.4,1055.8 2560.6,1041.2ZM2567.4,1052.8 2570.4,1052.8 2573.8,1067.5 2573.8,1070.5 2570.8,1070.5 2567.4,1055.8ZM2570.8,1067.5 2573.8,1067.5 2577.2,1081.0 2577.2,1084.0 2574.2,1084.0 2570.8,1070.5ZM2574.2,1081.0 2577.2,1081.0 2580.5,1093.4 2580.5,1096.4 2577.5,1096.4 2574.2,1084.0ZM2577.5,1093.4 2580.5,1093.4 2583.4,1104.7 2583.4,1107.7 2580.4,1107.7 2577.5,1096.4ZM2580.4,1104.7 2583.4,1104.7 2585.6,1118.3 2585.6,1121.3 2582.6,1121.3 2580.4,1107.7ZM2582.6,1118.3 2585.6,1118.3 2587.9,1133.5 2587.9,1136.5 2584.9,1136.5 2582.6,1121.3ZM2584.9,1133.5 2587.9,1133.5 2589.0,1143.2 2589.0,1146.2 2586.0,1146.2 2584.9,1136.5ZM2586.0,1143.2 2589.0,1143.2 2590.1,1156.7 2590.1,1159.7 2587.1,1159.7 2586.0,1146.2ZM2587.1,1156.7 2590.1,1156.7 2591.3,1171.4 2591.3,1174.4 2588.3,1174.4 2587.1,1159.7ZM2588.3,1171.4 2591.3,1171.4 2593.5,1184.9 2593.5,1187.9 2590.5,1187.9 2588.3,1174.4ZM2590.5,1184.9 2593.5,1184.9 2596.9,1204.7 2596.9,1207.7 2593.9,1207.7 2590.5,1187.9ZM2593.9,1204.7 2596.9,1204.7 2604.1,1212.0 2604.1,1215.0 2601.1,1215.0 2593.9,1207.7ZM2601.1,1212.0 2604.1,1212.0 2608.0,1219.3 2608.0,1222.3 2605.0,1222.3 2601.1,1215.0ZM2605.0,1219.3 2608.0,1219.3 2614.8,1222.2 2614.8,1225.2 2611.8,1225.2 2605.0,1222.3ZM2611.8,1222.2 2614.8,1222.2 2618.2,1228.9 2618.2,1231.9 2615.2,1231.9 2611.8,1225.2ZM2615.2,1228.9 2618.2,1228.9 2621.0,1236.3 2621.0,1239.3 2618.0,1239.3 2615.2,1231.9ZM2618.0,1236.3 2621.0,1236.3 2623.3,1243.8 2623.3,1246.8 2620.3,1246.8 2618.0,1239.3ZM2620.3,1243.8 2623.3,1243.8 2630.0,1247.5 2630.0,1250.5 2627.0,1250.5 2620.3,1246.8ZM2627.0,1247.5 2633.8,1243.8 2636.8,1243.8 2636.8,1246.8 2630.0,1250.5 2627.0,1250.5ZM2633.8,1243.8 2636.0,1231.2 2639.0,1231.2 2639.0,1234.2 2636.8,1246.8 2633.8,1246.8ZM2636.0,1231.2 2638.3,1216.5 2641.3,1216.5 2641.3,1219.5 2639.0,1234.2 2636.0,1234.2ZM2638.3,1216.5 2640.6,1205.2 2643.6,1205.2 2643.6,1208.2 2641.3,1219.5 2638.3,1219.5ZM2640.6,1205.2 2642.7,1196.2 2645.7,1196.2 2645.7,1199.2 2643.6,1208.2 2640.6,1208.2ZM2642.7,1196.2 2644.7,1188.3 2647.7,1188.3 2647.7,1191.3 2645.7,1199.2 2642.7,1199.2ZM2644.7,1188.3 2647.3,1179.3 2650.3,1179.3 2650.3,1182.3 2647.7,1191.3 2644.7,1191.3ZM2647.3,1179.3 2650.7,1170.3 2653.7,1170.3 2653.7,1173.3 2650.3,1182.3 2647.3,1182.3ZM2650.7,1170.3 2657.5,1156.7 2660.5,1156.7 2660.5,1159.7 2653.7,1173.3 2650.7,1173.3ZM2657.5,1156.7 2659.2,1143.2 2662.2,1143.2 2662.2,1146.2 2660.5,1159.7 2657.5,1159.7ZM2659.2,1143.2 2660.6,1133.0 2663.6,1133.0 2663.6,1136.0 2662.2,1146.2 2659.2,1146.2ZM2660.6,1133.0 2661.4,1128.5 2664.4,1128.5 2664.4,1131.5 2663.6,1136.0 2660.6,1136.0ZM2661.4,1128.5 2662.6,1118.3 2665.6,1118.3 2665.6,1121.3 2664.4,1131.5 2661.4,1131.5ZM2662.6,1118.3 2664.3,1103.6 2667.3,1103.6 2667.3,1106.6 2665.6,1121.3 2662.6,1121.3ZM2664.3,1103.6 2667.1,1090.1 2670.1,1090.1 2670.1,1093.1 2667.3,1106.6 2664.3,1106.6ZM2667.1,1090.1 2669.9,1077.6 2672.9,1077.6 2672.9,1080.6 2670.1,1093.1 2667.1,1093.1ZM2669.9,1077.6 2672.7,1066.4 2675.7,1066.4 2675.7,1069.4 2672.9,1080.6 2669.9,1080.6ZM2672.7,1066.4 2675.5,1055.1 2678.5,1055.1 2678.5,1058.1 2675.7,1069.4 2672.7,1069.4ZM2675.5,1055.1 2677.2,1048.9 2680.2,1048.9 2680.2,1051.9 2678.5,1058.1 2675.5,1058.1ZM2677.2,1048.9 2684.0,1043.0 2687.0,1043.0 2687.0,1046.0 2680.2,1051.9 2677.2,1051.9ZM2684.0,1043.0 2687.0,1043.0 2689.8,1051.7 2689.8,1054.7 2686.8,1054.7 2684.0,1046.0ZM2686.8,1051.7 2689.8,1051.7 2692.6,1060.2 2692.6,1063.2 2689.6,1063.2 2686.8,1054.7ZM2689.6,1060.2 2692.6,1060.2 2696.6,1061.3 2696.6,1064.3 2693.6,1064.3 2689.6,1063.2ZM2693.6,1061.3 2696.6,1061.3 2701.7,1074.3 2701.7,1077.3 2698.7,1077.3 2693.6,1064.3ZM2698.7,1074.3 2701.7,1074.3 2705.1,1087.8 2705.1,1090.8 2702.1,1090.8 2698.7,1077.3ZM2702.1,1087.8 2705.1,1087.8 2708.4,1101.3 2708.4,1104.3 2705.4,1104.3 2702.1,1090.8ZM2705.4,1101.3 2708.4,1101.3 2711.3,1114.9 2711.3,1117.9 2708.3,1117.9 2705.4,1104.3ZM2708.3,1114.9 2711.3,1114.9 2714.7,1133.5 2714.7,1136.5 2711.7,1136.5 2708.3,1117.9ZM2711.7,1133.5 2714.7,1133.5 2716.3,1140.9 2716.3,1143.9 2713.3,1143.9 2711.7,1136.5ZM2713.3,1140.9 2716.3,1140.9 2719.2,1154.5 2719.2,1157.5 2716.2,1157.5 2713.3,1143.9ZM2716.2,1154.5 2719.2,1154.5 2722.0,1170.3 2722.0,1173.3 2719.0,1173.3 2716.2,1157.5ZM2719.0,1170.3 2722.0,1170.3 2724.2,1184.9 2724.2,1187.9 2721.2,1187.9 2719.0,1173.3ZM2721.2,1184.9 2724.2,1184.9 2726.2,1201.3 2726.2,1204.3 2723.2,1204.3 2721.2,1187.9Z"/>
</svg>
</body></html>
